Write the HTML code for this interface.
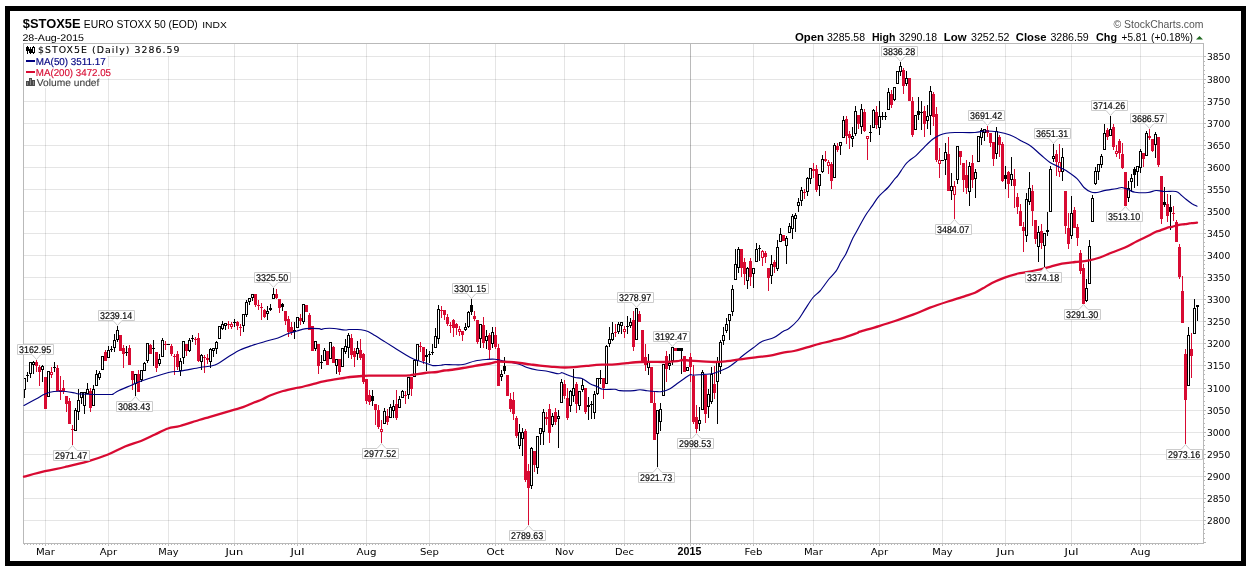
<!DOCTYPE html>
<html lang="en"><head><meta charset="utf-8"><title>$STOX5E EURO STOXX 50 (EOD) INDX - StockCharts.com</title>
<style>html,body{margin:0;padding:0;background:#fff}body{width:1250px;height:569px;overflow:hidden}svg{display:block}text{font-family:"Liberation Sans",sans-serif}.dj{font-family:"DejaVu Sans","Liberation Sans",sans-serif}</style></head><body>
<svg width="1250" height="569" viewBox="0 0 1250 569">
<rect x="0" y="0" width="1250" height="569" fill="#fff"/>
<rect x="7.5" y="8.5" width="1236" height="555" fill="none" stroke="#000" stroke-width="5" shape-rendering="crispEdges"/>
<g shape-rendering="crispEdges">
<rect x="23" y="520" width="1180" height="1" fill="#000" fill-opacity="0.1"/>
<rect x="23" y="498" width="1180" height="1" fill="#000" fill-opacity="0.1"/>
<rect x="23" y="476" width="1180" height="1" fill="#000" fill-opacity="0.1"/>
<rect x="23" y="454" width="1180" height="1" fill="#000" fill-opacity="0.1"/>
<rect x="23" y="432" width="1180" height="1" fill="#000" fill-opacity="0.1"/>
<rect x="23" y="410" width="1180" height="1" fill="#000" fill-opacity="0.1"/>
<rect x="23" y="388" width="1180" height="1" fill="#000" fill-opacity="0.1"/>
<rect x="23" y="365" width="1180" height="1" fill="#000" fill-opacity="0.1"/>
<rect x="23" y="343" width="1180" height="1" fill="#000" fill-opacity="0.1"/>
<rect x="23" y="321" width="1180" height="1" fill="#000" fill-opacity="0.1"/>
<rect x="23" y="299" width="1180" height="1" fill="#000" fill-opacity="0.1"/>
<rect x="23" y="277" width="1180" height="1" fill="#000" fill-opacity="0.1"/>
<rect x="23" y="255" width="1180" height="1" fill="#000" fill-opacity="0.1"/>
<rect x="23" y="233" width="1180" height="1" fill="#000" fill-opacity="0.1"/>
<rect x="23" y="211" width="1180" height="1" fill="#000" fill-opacity="0.1"/>
<rect x="23" y="189" width="1180" height="1" fill="#000" fill-opacity="0.1"/>
<rect x="23" y="167" width="1180" height="1" fill="#000" fill-opacity="0.1"/>
<rect x="23" y="145" width="1180" height="1" fill="#000" fill-opacity="0.1"/>
<rect x="23" y="123" width="1180" height="1" fill="#000" fill-opacity="0.1"/>
<rect x="23" y="101" width="1180" height="1" fill="#000" fill-opacity="0.1"/>
<rect x="23" y="79" width="1180" height="1" fill="#000" fill-opacity="0.1"/>
<rect x="23" y="56" width="1180" height="1" fill="#000" fill-opacity="0.1"/>
<rect x="45" y="43" width="1" height="500" fill="#000" fill-opacity="0.1"/>
<rect x="108" y="43" width="1" height="500" fill="#000" fill-opacity="0.1"/>
<rect x="168" y="43" width="1" height="500" fill="#000" fill-opacity="0.1"/>
<rect x="234" y="43" width="1" height="500" fill="#000" fill-opacity="0.1"/>
<rect x="297" y="43" width="1" height="500" fill="#000" fill-opacity="0.1"/>
<rect x="366" y="43" width="1" height="500" fill="#000" fill-opacity="0.1"/>
<rect x="429" y="43" width="1" height="500" fill="#000" fill-opacity="0.1"/>
<rect x="495" y="43" width="1" height="500" fill="#000" fill-opacity="0.1"/>
<rect x="564" y="43" width="1" height="500" fill="#000" fill-opacity="0.1"/>
<rect x="624" y="43" width="1" height="500" fill="#000" fill-opacity="0.1"/>
<rect x="690" y="43" width="1" height="500" fill="#000" fill-opacity="0.27"/>
<rect x="753" y="43" width="1" height="500" fill="#000" fill-opacity="0.1"/>
<rect x="813" y="43" width="1" height="500" fill="#000" fill-opacity="0.1"/>
<rect x="879" y="43" width="1" height="500" fill="#000" fill-opacity="0.1"/>
<rect x="942" y="43" width="1" height="500" fill="#000" fill-opacity="0.1"/>
<rect x="1005" y="43" width="1" height="500" fill="#000" fill-opacity="0.1"/>
<rect x="1071" y="43" width="1" height="500" fill="#000" fill-opacity="0.1"/>
<rect x="1140" y="43" width="1" height="500" fill="#000" fill-opacity="0.1"/>
<rect x="23" y="43" width="1181" height="1" fill="#b9b9b9"/>
<rect x="23" y="543" width="1181" height="1" fill="#b9b9b9"/>
<rect x="23" y="43" width="1" height="501" fill="#b9b9b9"/>
<rect x="1203" y="43" width="1" height="501" fill="#b9b9b9"/>
<rect x="1204" y="542" width="2" height="1" fill="#b9b9b9"/>
<rect x="1204" y="538" width="1" height="1" fill="#b9b9b9"/>
<rect x="1204" y="533" width="1" height="1" fill="#b9b9b9"/>
<rect x="1204" y="529" width="1" height="1" fill="#b9b9b9"/>
<rect x="1204" y="524" width="1" height="1" fill="#b9b9b9"/>
<rect x="1204" y="520" width="2" height="1" fill="#b9b9b9"/>
<rect x="1204" y="516" width="1" height="1" fill="#b9b9b9"/>
<rect x="1204" y="511" width="1" height="1" fill="#b9b9b9"/>
<rect x="1204" y="507" width="1" height="1" fill="#b9b9b9"/>
<rect x="1204" y="502" width="1" height="1" fill="#b9b9b9"/>
<rect x="1204" y="498" width="2" height="1" fill="#b9b9b9"/>
<rect x="1204" y="493" width="1" height="1" fill="#b9b9b9"/>
<rect x="1204" y="489" width="1" height="1" fill="#b9b9b9"/>
<rect x="1204" y="485" width="1" height="1" fill="#b9b9b9"/>
<rect x="1204" y="480" width="1" height="1" fill="#b9b9b9"/>
<rect x="1204" y="476" width="2" height="1" fill="#b9b9b9"/>
<rect x="1204" y="471" width="1" height="1" fill="#b9b9b9"/>
<rect x="1204" y="467" width="1" height="1" fill="#b9b9b9"/>
<rect x="1204" y="463" width="1" height="1" fill="#b9b9b9"/>
<rect x="1204" y="458" width="1" height="1" fill="#b9b9b9"/>
<rect x="1204" y="454" width="2" height="1" fill="#b9b9b9"/>
<rect x="1204" y="449" width="1" height="1" fill="#b9b9b9"/>
<rect x="1204" y="445" width="1" height="1" fill="#b9b9b9"/>
<rect x="1204" y="440" width="1" height="1" fill="#b9b9b9"/>
<rect x="1204" y="436" width="1" height="1" fill="#b9b9b9"/>
<rect x="1204" y="432" width="2" height="1" fill="#b9b9b9"/>
<rect x="1204" y="427" width="1" height="1" fill="#b9b9b9"/>
<rect x="1204" y="423" width="1" height="1" fill="#b9b9b9"/>
<rect x="1204" y="418" width="1" height="1" fill="#b9b9b9"/>
<rect x="1204" y="414" width="1" height="1" fill="#b9b9b9"/>
<rect x="1204" y="410" width="2" height="1" fill="#b9b9b9"/>
<rect x="1204" y="405" width="1" height="1" fill="#b9b9b9"/>
<rect x="1204" y="401" width="1" height="1" fill="#b9b9b9"/>
<rect x="1204" y="396" width="1" height="1" fill="#b9b9b9"/>
<rect x="1204" y="392" width="1" height="1" fill="#b9b9b9"/>
<rect x="1204" y="388" width="2" height="1" fill="#b9b9b9"/>
<rect x="1204" y="383" width="1" height="1" fill="#b9b9b9"/>
<rect x="1204" y="379" width="1" height="1" fill="#b9b9b9"/>
<rect x="1204" y="374" width="1" height="1" fill="#b9b9b9"/>
<rect x="1204" y="370" width="1" height="1" fill="#b9b9b9"/>
<rect x="1204" y="365" width="2" height="1" fill="#b9b9b9"/>
<rect x="1204" y="361" width="1" height="1" fill="#b9b9b9"/>
<rect x="1204" y="357" width="1" height="1" fill="#b9b9b9"/>
<rect x="1204" y="352" width="1" height="1" fill="#b9b9b9"/>
<rect x="1204" y="348" width="1" height="1" fill="#b9b9b9"/>
<rect x="1204" y="343" width="2" height="1" fill="#b9b9b9"/>
<rect x="1204" y="339" width="1" height="1" fill="#b9b9b9"/>
<rect x="1204" y="335" width="1" height="1" fill="#b9b9b9"/>
<rect x="1204" y="330" width="1" height="1" fill="#b9b9b9"/>
<rect x="1204" y="326" width="1" height="1" fill="#b9b9b9"/>
<rect x="1204" y="321" width="2" height="1" fill="#b9b9b9"/>
<rect x="1204" y="317" width="1" height="1" fill="#b9b9b9"/>
<rect x="1204" y="312" width="1" height="1" fill="#b9b9b9"/>
<rect x="1204" y="308" width="1" height="1" fill="#b9b9b9"/>
<rect x="1204" y="304" width="1" height="1" fill="#b9b9b9"/>
<rect x="1204" y="299" width="2" height="1" fill="#b9b9b9"/>
<rect x="1204" y="295" width="1" height="1" fill="#b9b9b9"/>
<rect x="1204" y="290" width="1" height="1" fill="#b9b9b9"/>
<rect x="1204" y="286" width="1" height="1" fill="#b9b9b9"/>
<rect x="1204" y="282" width="1" height="1" fill="#b9b9b9"/>
<rect x="1204" y="277" width="2" height="1" fill="#b9b9b9"/>
<rect x="1204" y="273" width="1" height="1" fill="#b9b9b9"/>
<rect x="1204" y="268" width="1" height="1" fill="#b9b9b9"/>
<rect x="1204" y="264" width="1" height="1" fill="#b9b9b9"/>
<rect x="1204" y="260" width="1" height="1" fill="#b9b9b9"/>
<rect x="1204" y="255" width="2" height="1" fill="#b9b9b9"/>
<rect x="1204" y="251" width="1" height="1" fill="#b9b9b9"/>
<rect x="1204" y="246" width="1" height="1" fill="#b9b9b9"/>
<rect x="1204" y="242" width="1" height="1" fill="#b9b9b9"/>
<rect x="1204" y="237" width="1" height="1" fill="#b9b9b9"/>
<rect x="1204" y="233" width="2" height="1" fill="#b9b9b9"/>
<rect x="1204" y="229" width="1" height="1" fill="#b9b9b9"/>
<rect x="1204" y="224" width="1" height="1" fill="#b9b9b9"/>
<rect x="1204" y="220" width="1" height="1" fill="#b9b9b9"/>
<rect x="1204" y="215" width="1" height="1" fill="#b9b9b9"/>
<rect x="1204" y="211" width="2" height="1" fill="#b9b9b9"/>
<rect x="1204" y="207" width="1" height="1" fill="#b9b9b9"/>
<rect x="1204" y="202" width="1" height="1" fill="#b9b9b9"/>
<rect x="1204" y="198" width="1" height="1" fill="#b9b9b9"/>
<rect x="1204" y="193" width="1" height="1" fill="#b9b9b9"/>
<rect x="1204" y="189" width="2" height="1" fill="#b9b9b9"/>
<rect x="1204" y="184" width="1" height="1" fill="#b9b9b9"/>
<rect x="1204" y="180" width="1" height="1" fill="#b9b9b9"/>
<rect x="1204" y="176" width="1" height="1" fill="#b9b9b9"/>
<rect x="1204" y="171" width="1" height="1" fill="#b9b9b9"/>
<rect x="1204" y="167" width="2" height="1" fill="#b9b9b9"/>
<rect x="1204" y="162" width="1" height="1" fill="#b9b9b9"/>
<rect x="1204" y="158" width="1" height="1" fill="#b9b9b9"/>
<rect x="1204" y="154" width="1" height="1" fill="#b9b9b9"/>
<rect x="1204" y="149" width="1" height="1" fill="#b9b9b9"/>
<rect x="1204" y="145" width="2" height="1" fill="#b9b9b9"/>
<rect x="1204" y="140" width="1" height="1" fill="#b9b9b9"/>
<rect x="1204" y="136" width="1" height="1" fill="#b9b9b9"/>
<rect x="1204" y="132" width="1" height="1" fill="#b9b9b9"/>
<rect x="1204" y="127" width="1" height="1" fill="#b9b9b9"/>
<rect x="1204" y="123" width="2" height="1" fill="#b9b9b9"/>
<rect x="1204" y="118" width="1" height="1" fill="#b9b9b9"/>
<rect x="1204" y="114" width="1" height="1" fill="#b9b9b9"/>
<rect x="1204" y="109" width="1" height="1" fill="#b9b9b9"/>
<rect x="1204" y="105" width="1" height="1" fill="#b9b9b9"/>
<rect x="1204" y="101" width="2" height="1" fill="#b9b9b9"/>
<rect x="1204" y="96" width="1" height="1" fill="#b9b9b9"/>
<rect x="1204" y="92" width="1" height="1" fill="#b9b9b9"/>
<rect x="1204" y="87" width="1" height="1" fill="#b9b9b9"/>
<rect x="1204" y="83" width="1" height="1" fill="#b9b9b9"/>
<rect x="1204" y="79" width="2" height="1" fill="#b9b9b9"/>
<rect x="1204" y="74" width="1" height="1" fill="#b9b9b9"/>
<rect x="1204" y="70" width="1" height="1" fill="#b9b9b9"/>
<rect x="1204" y="65" width="1" height="1" fill="#b9b9b9"/>
<rect x="1204" y="61" width="1" height="1" fill="#b9b9b9"/>
<rect x="1204" y="56" width="2" height="1" fill="#b9b9b9"/>
<rect x="24" y="544" width="1" height="1" fill="#b9b9b9"/>
<rect x="27" y="544" width="1" height="1" fill="#b9b9b9"/>
<rect x="30" y="544" width="1" height="1" fill="#b9b9b9"/>
<rect x="33" y="544" width="1" height="1" fill="#b9b9b9"/>
<rect x="36" y="544" width="1" height="1" fill="#b9b9b9"/>
<rect x="39" y="544" width="1" height="1" fill="#b9b9b9"/>
<rect x="42" y="544" width="1" height="1" fill="#b9b9b9"/>
<rect x="45" y="544" width="1" height="1" fill="#b9b9b9"/>
<rect x="48" y="544" width="1" height="1" fill="#b9b9b9"/>
<rect x="51" y="544" width="1" height="1" fill="#b9b9b9"/>
<rect x="54" y="544" width="1" height="1" fill="#b9b9b9"/>
<rect x="57" y="544" width="1" height="1" fill="#b9b9b9"/>
<rect x="60" y="544" width="1" height="1" fill="#b9b9b9"/>
<rect x="63" y="544" width="1" height="1" fill="#b9b9b9"/>
<rect x="66" y="544" width="1" height="1" fill="#b9b9b9"/>
<rect x="69" y="544" width="1" height="1" fill="#b9b9b9"/>
<rect x="72" y="544" width="1" height="1" fill="#b9b9b9"/>
<rect x="75" y="544" width="1" height="1" fill="#b9b9b9"/>
<rect x="78" y="544" width="1" height="1" fill="#b9b9b9"/>
<rect x="81" y="544" width="1" height="1" fill="#b9b9b9"/>
<rect x="84" y="544" width="1" height="1" fill="#b9b9b9"/>
<rect x="87" y="544" width="1" height="1" fill="#b9b9b9"/>
<rect x="90" y="544" width="1" height="1" fill="#b9b9b9"/>
<rect x="93" y="544" width="1" height="1" fill="#b9b9b9"/>
<rect x="96" y="544" width="1" height="1" fill="#b9b9b9"/>
<rect x="99" y="544" width="1" height="1" fill="#b9b9b9"/>
<rect x="102" y="544" width="1" height="1" fill="#b9b9b9"/>
<rect x="105" y="544" width="1" height="1" fill="#b9b9b9"/>
<rect x="108" y="544" width="1" height="1" fill="#b9b9b9"/>
<rect x="111" y="544" width="1" height="1" fill="#b9b9b9"/>
<rect x="114" y="544" width="1" height="1" fill="#b9b9b9"/>
<rect x="117" y="544" width="1" height="1" fill="#b9b9b9"/>
<rect x="120" y="544" width="1" height="1" fill="#b9b9b9"/>
<rect x="123" y="544" width="1" height="1" fill="#b9b9b9"/>
<rect x="126" y="544" width="1" height="1" fill="#b9b9b9"/>
<rect x="129" y="544" width="1" height="1" fill="#b9b9b9"/>
<rect x="132" y="544" width="1" height="1" fill="#b9b9b9"/>
<rect x="135" y="544" width="1" height="1" fill="#b9b9b9"/>
<rect x="138" y="544" width="1" height="1" fill="#b9b9b9"/>
<rect x="141" y="544" width="1" height="1" fill="#b9b9b9"/>
<rect x="144" y="544" width="1" height="1" fill="#b9b9b9"/>
<rect x="147" y="544" width="1" height="1" fill="#b9b9b9"/>
<rect x="150" y="544" width="1" height="1" fill="#b9b9b9"/>
<rect x="153" y="544" width="1" height="1" fill="#b9b9b9"/>
<rect x="156" y="544" width="1" height="1" fill="#b9b9b9"/>
<rect x="159" y="544" width="1" height="1" fill="#b9b9b9"/>
<rect x="162" y="544" width="1" height="1" fill="#b9b9b9"/>
<rect x="165" y="544" width="1" height="1" fill="#b9b9b9"/>
<rect x="168" y="544" width="1" height="1" fill="#b9b9b9"/>
<rect x="171" y="544" width="1" height="1" fill="#b9b9b9"/>
<rect x="174" y="544" width="1" height="1" fill="#b9b9b9"/>
<rect x="177" y="544" width="1" height="1" fill="#b9b9b9"/>
<rect x="180" y="544" width="1" height="1" fill="#b9b9b9"/>
<rect x="183" y="544" width="1" height="1" fill="#b9b9b9"/>
<rect x="186" y="544" width="1" height="1" fill="#b9b9b9"/>
<rect x="189" y="544" width="1" height="1" fill="#b9b9b9"/>
<rect x="192" y="544" width="1" height="1" fill="#b9b9b9"/>
<rect x="195" y="544" width="1" height="1" fill="#b9b9b9"/>
<rect x="198" y="544" width="1" height="1" fill="#b9b9b9"/>
<rect x="201" y="544" width="1" height="1" fill="#b9b9b9"/>
<rect x="204" y="544" width="1" height="1" fill="#b9b9b9"/>
<rect x="207" y="544" width="1" height="1" fill="#b9b9b9"/>
<rect x="210" y="544" width="1" height="1" fill="#b9b9b9"/>
<rect x="213" y="544" width="1" height="1" fill="#b9b9b9"/>
<rect x="216" y="544" width="1" height="1" fill="#b9b9b9"/>
<rect x="219" y="544" width="1" height="1" fill="#b9b9b9"/>
<rect x="222" y="544" width="1" height="1" fill="#b9b9b9"/>
<rect x="225" y="544" width="1" height="1" fill="#b9b9b9"/>
<rect x="228" y="544" width="1" height="1" fill="#b9b9b9"/>
<rect x="231" y="544" width="1" height="1" fill="#b9b9b9"/>
<rect x="234" y="544" width="1" height="1" fill="#b9b9b9"/>
<rect x="237" y="544" width="1" height="1" fill="#b9b9b9"/>
<rect x="240" y="544" width="1" height="1" fill="#b9b9b9"/>
<rect x="243" y="544" width="1" height="1" fill="#b9b9b9"/>
<rect x="246" y="544" width="1" height="1" fill="#b9b9b9"/>
<rect x="249" y="544" width="1" height="1" fill="#b9b9b9"/>
<rect x="252" y="544" width="1" height="1" fill="#b9b9b9"/>
<rect x="255" y="544" width="1" height="1" fill="#b9b9b9"/>
<rect x="258" y="544" width="1" height="1" fill="#b9b9b9"/>
<rect x="261" y="544" width="1" height="1" fill="#b9b9b9"/>
<rect x="264" y="544" width="1" height="1" fill="#b9b9b9"/>
<rect x="267" y="544" width="1" height="1" fill="#b9b9b9"/>
<rect x="270" y="544" width="1" height="1" fill="#b9b9b9"/>
<rect x="273" y="544" width="1" height="1" fill="#b9b9b9"/>
<rect x="276" y="544" width="1" height="1" fill="#b9b9b9"/>
<rect x="279" y="544" width="1" height="1" fill="#b9b9b9"/>
<rect x="282" y="544" width="1" height="1" fill="#b9b9b9"/>
<rect x="285" y="544" width="1" height="1" fill="#b9b9b9"/>
<rect x="288" y="544" width="1" height="1" fill="#b9b9b9"/>
<rect x="291" y="544" width="1" height="1" fill="#b9b9b9"/>
<rect x="294" y="544" width="1" height="1" fill="#b9b9b9"/>
<rect x="297" y="544" width="1" height="1" fill="#b9b9b9"/>
<rect x="300" y="544" width="1" height="1" fill="#b9b9b9"/>
<rect x="303" y="544" width="1" height="1" fill="#b9b9b9"/>
<rect x="306" y="544" width="1" height="1" fill="#b9b9b9"/>
<rect x="309" y="544" width="1" height="1" fill="#b9b9b9"/>
<rect x="312" y="544" width="1" height="1" fill="#b9b9b9"/>
<rect x="315" y="544" width="1" height="1" fill="#b9b9b9"/>
<rect x="318" y="544" width="1" height="1" fill="#b9b9b9"/>
<rect x="321" y="544" width="1" height="1" fill="#b9b9b9"/>
<rect x="324" y="544" width="1" height="1" fill="#b9b9b9"/>
<rect x="327" y="544" width="1" height="1" fill="#b9b9b9"/>
<rect x="330" y="544" width="1" height="1" fill="#b9b9b9"/>
<rect x="333" y="544" width="1" height="1" fill="#b9b9b9"/>
<rect x="336" y="544" width="1" height="1" fill="#b9b9b9"/>
<rect x="339" y="544" width="1" height="1" fill="#b9b9b9"/>
<rect x="342" y="544" width="1" height="1" fill="#b9b9b9"/>
<rect x="345" y="544" width="1" height="1" fill="#b9b9b9"/>
<rect x="348" y="544" width="1" height="1" fill="#b9b9b9"/>
<rect x="351" y="544" width="1" height="1" fill="#b9b9b9"/>
<rect x="354" y="544" width="1" height="1" fill="#b9b9b9"/>
<rect x="357" y="544" width="1" height="1" fill="#b9b9b9"/>
<rect x="360" y="544" width="1" height="1" fill="#b9b9b9"/>
<rect x="363" y="544" width="1" height="1" fill="#b9b9b9"/>
<rect x="366" y="544" width="1" height="1" fill="#b9b9b9"/>
<rect x="369" y="544" width="1" height="1" fill="#b9b9b9"/>
<rect x="372" y="544" width="1" height="1" fill="#b9b9b9"/>
<rect x="375" y="544" width="1" height="1" fill="#b9b9b9"/>
<rect x="378" y="544" width="1" height="1" fill="#b9b9b9"/>
<rect x="381" y="544" width="1" height="1" fill="#b9b9b9"/>
<rect x="384" y="544" width="1" height="1" fill="#b9b9b9"/>
<rect x="387" y="544" width="1" height="1" fill="#b9b9b9"/>
<rect x="390" y="544" width="1" height="1" fill="#b9b9b9"/>
<rect x="393" y="544" width="1" height="1" fill="#b9b9b9"/>
<rect x="396" y="544" width="1" height="1" fill="#b9b9b9"/>
<rect x="399" y="544" width="1" height="1" fill="#b9b9b9"/>
<rect x="402" y="544" width="1" height="1" fill="#b9b9b9"/>
<rect x="405" y="544" width="1" height="1" fill="#b9b9b9"/>
<rect x="408" y="544" width="1" height="1" fill="#b9b9b9"/>
<rect x="411" y="544" width="1" height="1" fill="#b9b9b9"/>
<rect x="414" y="544" width="1" height="1" fill="#b9b9b9"/>
<rect x="417" y="544" width="1" height="1" fill="#b9b9b9"/>
<rect x="420" y="544" width="1" height="1" fill="#b9b9b9"/>
<rect x="423" y="544" width="1" height="1" fill="#b9b9b9"/>
<rect x="426" y="544" width="1" height="1" fill="#b9b9b9"/>
<rect x="429" y="544" width="1" height="1" fill="#b9b9b9"/>
<rect x="432" y="544" width="1" height="1" fill="#b9b9b9"/>
<rect x="435" y="544" width="1" height="1" fill="#b9b9b9"/>
<rect x="438" y="544" width="1" height="1" fill="#b9b9b9"/>
<rect x="441" y="544" width="1" height="1" fill="#b9b9b9"/>
<rect x="444" y="544" width="1" height="1" fill="#b9b9b9"/>
<rect x="447" y="544" width="1" height="1" fill="#b9b9b9"/>
<rect x="450" y="544" width="1" height="1" fill="#b9b9b9"/>
<rect x="453" y="544" width="1" height="1" fill="#b9b9b9"/>
<rect x="456" y="544" width="1" height="1" fill="#b9b9b9"/>
<rect x="459" y="544" width="1" height="1" fill="#b9b9b9"/>
<rect x="462" y="544" width="1" height="1" fill="#b9b9b9"/>
<rect x="465" y="544" width="1" height="1" fill="#b9b9b9"/>
<rect x="468" y="544" width="1" height="1" fill="#b9b9b9"/>
<rect x="471" y="544" width="1" height="1" fill="#b9b9b9"/>
<rect x="474" y="544" width="1" height="1" fill="#b9b9b9"/>
<rect x="477" y="544" width="1" height="1" fill="#b9b9b9"/>
<rect x="480" y="544" width="1" height="1" fill="#b9b9b9"/>
<rect x="483" y="544" width="1" height="1" fill="#b9b9b9"/>
<rect x="486" y="544" width="1" height="1" fill="#b9b9b9"/>
<rect x="489" y="544" width="1" height="1" fill="#b9b9b9"/>
<rect x="492" y="544" width="1" height="1" fill="#b9b9b9"/>
<rect x="495" y="544" width="1" height="1" fill="#b9b9b9"/>
<rect x="498" y="544" width="1" height="1" fill="#b9b9b9"/>
<rect x="501" y="544" width="1" height="1" fill="#b9b9b9"/>
<rect x="504" y="544" width="1" height="1" fill="#b9b9b9"/>
<rect x="507" y="544" width="1" height="1" fill="#b9b9b9"/>
<rect x="510" y="544" width="1" height="1" fill="#b9b9b9"/>
<rect x="513" y="544" width="1" height="1" fill="#b9b9b9"/>
<rect x="516" y="544" width="1" height="1" fill="#b9b9b9"/>
<rect x="519" y="544" width="1" height="1" fill="#b9b9b9"/>
<rect x="522" y="544" width="1" height="1" fill="#b9b9b9"/>
<rect x="525" y="544" width="1" height="1" fill="#b9b9b9"/>
<rect x="528" y="544" width="1" height="1" fill="#b9b9b9"/>
<rect x="531" y="544" width="1" height="1" fill="#b9b9b9"/>
<rect x="534" y="544" width="1" height="1" fill="#b9b9b9"/>
<rect x="537" y="544" width="1" height="1" fill="#b9b9b9"/>
<rect x="540" y="544" width="1" height="1" fill="#b9b9b9"/>
<rect x="543" y="544" width="1" height="1" fill="#b9b9b9"/>
<rect x="546" y="544" width="1" height="1" fill="#b9b9b9"/>
<rect x="549" y="544" width="1" height="1" fill="#b9b9b9"/>
<rect x="552" y="544" width="1" height="1" fill="#b9b9b9"/>
<rect x="555" y="544" width="1" height="1" fill="#b9b9b9"/>
<rect x="558" y="544" width="1" height="1" fill="#b9b9b9"/>
<rect x="561" y="544" width="1" height="1" fill="#b9b9b9"/>
<rect x="564" y="544" width="1" height="1" fill="#b9b9b9"/>
<rect x="567" y="544" width="1" height="1" fill="#b9b9b9"/>
<rect x="570" y="544" width="1" height="1" fill="#b9b9b9"/>
<rect x="573" y="544" width="1" height="1" fill="#b9b9b9"/>
<rect x="576" y="544" width="1" height="1" fill="#b9b9b9"/>
<rect x="579" y="544" width="1" height="1" fill="#b9b9b9"/>
<rect x="582" y="544" width="1" height="1" fill="#b9b9b9"/>
<rect x="585" y="544" width="1" height="1" fill="#b9b9b9"/>
<rect x="588" y="544" width="1" height="1" fill="#b9b9b9"/>
<rect x="591" y="544" width="1" height="1" fill="#b9b9b9"/>
<rect x="594" y="544" width="1" height="1" fill="#b9b9b9"/>
<rect x="597" y="544" width="1" height="1" fill="#b9b9b9"/>
<rect x="600" y="544" width="1" height="1" fill="#b9b9b9"/>
<rect x="603" y="544" width="1" height="1" fill="#b9b9b9"/>
<rect x="606" y="544" width="1" height="1" fill="#b9b9b9"/>
<rect x="609" y="544" width="1" height="1" fill="#b9b9b9"/>
<rect x="612" y="544" width="1" height="1" fill="#b9b9b9"/>
<rect x="615" y="544" width="1" height="1" fill="#b9b9b9"/>
<rect x="618" y="544" width="1" height="1" fill="#b9b9b9"/>
<rect x="621" y="544" width="1" height="1" fill="#b9b9b9"/>
<rect x="624" y="544" width="1" height="1" fill="#b9b9b9"/>
<rect x="627" y="544" width="1" height="1" fill="#b9b9b9"/>
<rect x="630" y="544" width="1" height="1" fill="#b9b9b9"/>
<rect x="633" y="544" width="1" height="1" fill="#b9b9b9"/>
<rect x="636" y="544" width="1" height="1" fill="#b9b9b9"/>
<rect x="639" y="544" width="1" height="1" fill="#b9b9b9"/>
<rect x="642" y="544" width="1" height="1" fill="#b9b9b9"/>
<rect x="645" y="544" width="1" height="1" fill="#b9b9b9"/>
<rect x="648" y="544" width="1" height="1" fill="#b9b9b9"/>
<rect x="651" y="544" width="1" height="1" fill="#b9b9b9"/>
<rect x="654" y="544" width="1" height="1" fill="#b9b9b9"/>
<rect x="657" y="544" width="1" height="1" fill="#b9b9b9"/>
<rect x="660" y="544" width="1" height="1" fill="#b9b9b9"/>
<rect x="663" y="544" width="1" height="1" fill="#b9b9b9"/>
<rect x="666" y="544" width="1" height="1" fill="#b9b9b9"/>
<rect x="669" y="544" width="1" height="1" fill="#b9b9b9"/>
<rect x="672" y="544" width="1" height="1" fill="#b9b9b9"/>
<rect x="675" y="544" width="1" height="1" fill="#b9b9b9"/>
<rect x="678" y="544" width="1" height="1" fill="#b9b9b9"/>
<rect x="681" y="544" width="1" height="1" fill="#b9b9b9"/>
<rect x="684" y="544" width="1" height="1" fill="#b9b9b9"/>
<rect x="687" y="544" width="1" height="1" fill="#b9b9b9"/>
<rect x="690" y="544" width="1" height="1" fill="#b9b9b9"/>
<rect x="693" y="544" width="1" height="1" fill="#b9b9b9"/>
<rect x="696" y="544" width="1" height="1" fill="#b9b9b9"/>
<rect x="699" y="544" width="1" height="1" fill="#b9b9b9"/>
<rect x="702" y="544" width="1" height="1" fill="#b9b9b9"/>
<rect x="705" y="544" width="1" height="1" fill="#b9b9b9"/>
<rect x="708" y="544" width="1" height="1" fill="#b9b9b9"/>
<rect x="711" y="544" width="1" height="1" fill="#b9b9b9"/>
<rect x="714" y="544" width="1" height="1" fill="#b9b9b9"/>
<rect x="717" y="544" width="1" height="1" fill="#b9b9b9"/>
<rect x="720" y="544" width="1" height="1" fill="#b9b9b9"/>
<rect x="723" y="544" width="1" height="1" fill="#b9b9b9"/>
<rect x="726" y="544" width="1" height="1" fill="#b9b9b9"/>
<rect x="729" y="544" width="1" height="1" fill="#b9b9b9"/>
<rect x="732" y="544" width="1" height="1" fill="#b9b9b9"/>
<rect x="735" y="544" width="1" height="1" fill="#b9b9b9"/>
<rect x="738" y="544" width="1" height="1" fill="#b9b9b9"/>
<rect x="741" y="544" width="1" height="1" fill="#b9b9b9"/>
<rect x="744" y="544" width="1" height="1" fill="#b9b9b9"/>
<rect x="747" y="544" width="1" height="1" fill="#b9b9b9"/>
<rect x="750" y="544" width="1" height="1" fill="#b9b9b9"/>
<rect x="753" y="544" width="1" height="1" fill="#b9b9b9"/>
<rect x="756" y="544" width="1" height="1" fill="#b9b9b9"/>
<rect x="759" y="544" width="1" height="1" fill="#b9b9b9"/>
<rect x="762" y="544" width="1" height="1" fill="#b9b9b9"/>
<rect x="765" y="544" width="1" height="1" fill="#b9b9b9"/>
<rect x="768" y="544" width="1" height="1" fill="#b9b9b9"/>
<rect x="771" y="544" width="1" height="1" fill="#b9b9b9"/>
<rect x="774" y="544" width="1" height="1" fill="#b9b9b9"/>
<rect x="777" y="544" width="1" height="1" fill="#b9b9b9"/>
<rect x="780" y="544" width="1" height="1" fill="#b9b9b9"/>
<rect x="783" y="544" width="1" height="1" fill="#b9b9b9"/>
<rect x="786" y="544" width="1" height="1" fill="#b9b9b9"/>
<rect x="789" y="544" width="1" height="1" fill="#b9b9b9"/>
<rect x="792" y="544" width="1" height="1" fill="#b9b9b9"/>
<rect x="795" y="544" width="1" height="1" fill="#b9b9b9"/>
<rect x="798" y="544" width="1" height="1" fill="#b9b9b9"/>
<rect x="801" y="544" width="1" height="1" fill="#b9b9b9"/>
<rect x="804" y="544" width="1" height="1" fill="#b9b9b9"/>
<rect x="807" y="544" width="1" height="1" fill="#b9b9b9"/>
<rect x="810" y="544" width="1" height="1" fill="#b9b9b9"/>
<rect x="813" y="544" width="1" height="1" fill="#b9b9b9"/>
<rect x="816" y="544" width="1" height="1" fill="#b9b9b9"/>
<rect x="819" y="544" width="1" height="1" fill="#b9b9b9"/>
<rect x="822" y="544" width="1" height="1" fill="#b9b9b9"/>
<rect x="825" y="544" width="1" height="1" fill="#b9b9b9"/>
<rect x="828" y="544" width="1" height="1" fill="#b9b9b9"/>
<rect x="831" y="544" width="1" height="1" fill="#b9b9b9"/>
<rect x="834" y="544" width="1" height="1" fill="#b9b9b9"/>
<rect x="837" y="544" width="1" height="1" fill="#b9b9b9"/>
<rect x="840" y="544" width="1" height="1" fill="#b9b9b9"/>
<rect x="843" y="544" width="1" height="1" fill="#b9b9b9"/>
<rect x="846" y="544" width="1" height="1" fill="#b9b9b9"/>
<rect x="849" y="544" width="1" height="1" fill="#b9b9b9"/>
<rect x="852" y="544" width="1" height="1" fill="#b9b9b9"/>
<rect x="855" y="544" width="1" height="1" fill="#b9b9b9"/>
<rect x="858" y="544" width="1" height="1" fill="#b9b9b9"/>
<rect x="861" y="544" width="1" height="1" fill="#b9b9b9"/>
<rect x="864" y="544" width="1" height="1" fill="#b9b9b9"/>
<rect x="867" y="544" width="1" height="1" fill="#b9b9b9"/>
<rect x="870" y="544" width="1" height="1" fill="#b9b9b9"/>
<rect x="873" y="544" width="1" height="1" fill="#b9b9b9"/>
<rect x="876" y="544" width="1" height="1" fill="#b9b9b9"/>
<rect x="879" y="544" width="1" height="1" fill="#b9b9b9"/>
<rect x="882" y="544" width="1" height="1" fill="#b9b9b9"/>
<rect x="885" y="544" width="1" height="1" fill="#b9b9b9"/>
<rect x="888" y="544" width="1" height="1" fill="#b9b9b9"/>
<rect x="891" y="544" width="1" height="1" fill="#b9b9b9"/>
<rect x="894" y="544" width="1" height="1" fill="#b9b9b9"/>
<rect x="897" y="544" width="1" height="1" fill="#b9b9b9"/>
<rect x="900" y="544" width="1" height="1" fill="#b9b9b9"/>
<rect x="903" y="544" width="1" height="1" fill="#b9b9b9"/>
<rect x="906" y="544" width="1" height="1" fill="#b9b9b9"/>
<rect x="909" y="544" width="1" height="1" fill="#b9b9b9"/>
<rect x="912" y="544" width="1" height="1" fill="#b9b9b9"/>
<rect x="915" y="544" width="1" height="1" fill="#b9b9b9"/>
<rect x="918" y="544" width="1" height="1" fill="#b9b9b9"/>
<rect x="921" y="544" width="1" height="1" fill="#b9b9b9"/>
<rect x="924" y="544" width="1" height="1" fill="#b9b9b9"/>
<rect x="927" y="544" width="1" height="1" fill="#b9b9b9"/>
<rect x="930" y="544" width="1" height="1" fill="#b9b9b9"/>
<rect x="933" y="544" width="1" height="1" fill="#b9b9b9"/>
<rect x="936" y="544" width="1" height="1" fill="#b9b9b9"/>
<rect x="939" y="544" width="1" height="1" fill="#b9b9b9"/>
<rect x="942" y="544" width="1" height="1" fill="#b9b9b9"/>
<rect x="945" y="544" width="1" height="1" fill="#b9b9b9"/>
<rect x="948" y="544" width="1" height="1" fill="#b9b9b9"/>
<rect x="951" y="544" width="1" height="1" fill="#b9b9b9"/>
<rect x="954" y="544" width="1" height="1" fill="#b9b9b9"/>
<rect x="957" y="544" width="1" height="1" fill="#b9b9b9"/>
<rect x="960" y="544" width="1" height="1" fill="#b9b9b9"/>
<rect x="963" y="544" width="1" height="1" fill="#b9b9b9"/>
<rect x="966" y="544" width="1" height="1" fill="#b9b9b9"/>
<rect x="969" y="544" width="1" height="1" fill="#b9b9b9"/>
<rect x="972" y="544" width="1" height="1" fill="#b9b9b9"/>
<rect x="975" y="544" width="1" height="1" fill="#b9b9b9"/>
<rect x="978" y="544" width="1" height="1" fill="#b9b9b9"/>
<rect x="981" y="544" width="1" height="1" fill="#b9b9b9"/>
<rect x="984" y="544" width="1" height="1" fill="#b9b9b9"/>
<rect x="987" y="544" width="1" height="1" fill="#b9b9b9"/>
<rect x="990" y="544" width="1" height="1" fill="#b9b9b9"/>
<rect x="993" y="544" width="1" height="1" fill="#b9b9b9"/>
<rect x="996" y="544" width="1" height="1" fill="#b9b9b9"/>
<rect x="999" y="544" width="1" height="1" fill="#b9b9b9"/>
<rect x="1002" y="544" width="1" height="1" fill="#b9b9b9"/>
<rect x="1005" y="544" width="1" height="1" fill="#b9b9b9"/>
<rect x="1008" y="544" width="1" height="1" fill="#b9b9b9"/>
<rect x="1011" y="544" width="1" height="1" fill="#b9b9b9"/>
<rect x="1014" y="544" width="1" height="1" fill="#b9b9b9"/>
<rect x="1017" y="544" width="1" height="1" fill="#b9b9b9"/>
<rect x="1020" y="544" width="1" height="1" fill="#b9b9b9"/>
<rect x="1023" y="544" width="1" height="1" fill="#b9b9b9"/>
<rect x="1026" y="544" width="1" height="1" fill="#b9b9b9"/>
<rect x="1029" y="544" width="1" height="1" fill="#b9b9b9"/>
<rect x="1032" y="544" width="1" height="1" fill="#b9b9b9"/>
<rect x="1035" y="544" width="1" height="1" fill="#b9b9b9"/>
<rect x="1038" y="544" width="1" height="1" fill="#b9b9b9"/>
<rect x="1041" y="544" width="1" height="1" fill="#b9b9b9"/>
<rect x="1044" y="544" width="1" height="1" fill="#b9b9b9"/>
<rect x="1047" y="544" width="1" height="1" fill="#b9b9b9"/>
<rect x="1050" y="544" width="1" height="1" fill="#b9b9b9"/>
<rect x="1053" y="544" width="1" height="1" fill="#b9b9b9"/>
<rect x="1056" y="544" width="1" height="1" fill="#b9b9b9"/>
<rect x="1059" y="544" width="1" height="1" fill="#b9b9b9"/>
<rect x="1062" y="544" width="1" height="1" fill="#b9b9b9"/>
<rect x="1065" y="544" width="1" height="1" fill="#b9b9b9"/>
<rect x="1068" y="544" width="1" height="1" fill="#b9b9b9"/>
<rect x="1071" y="544" width="1" height="1" fill="#b9b9b9"/>
<rect x="1074" y="544" width="1" height="1" fill="#b9b9b9"/>
<rect x="1077" y="544" width="1" height="1" fill="#b9b9b9"/>
<rect x="1080" y="544" width="1" height="1" fill="#b9b9b9"/>
<rect x="1083" y="544" width="1" height="1" fill="#b9b9b9"/>
<rect x="1086" y="544" width="1" height="1" fill="#b9b9b9"/>
<rect x="1089" y="544" width="1" height="1" fill="#b9b9b9"/>
<rect x="1092" y="544" width="1" height="1" fill="#b9b9b9"/>
<rect x="1095" y="544" width="1" height="1" fill="#b9b9b9"/>
<rect x="1098" y="544" width="1" height="1" fill="#b9b9b9"/>
<rect x="1101" y="544" width="1" height="1" fill="#b9b9b9"/>
<rect x="1104" y="544" width="1" height="1" fill="#b9b9b9"/>
<rect x="1107" y="544" width="1" height="1" fill="#b9b9b9"/>
<rect x="1110" y="544" width="1" height="1" fill="#b9b9b9"/>
<rect x="1113" y="544" width="1" height="1" fill="#b9b9b9"/>
<rect x="1116" y="544" width="1" height="1" fill="#b9b9b9"/>
<rect x="1119" y="544" width="1" height="1" fill="#b9b9b9"/>
<rect x="1122" y="544" width="1" height="1" fill="#b9b9b9"/>
<rect x="1125" y="544" width="1" height="1" fill="#b9b9b9"/>
<rect x="1128" y="544" width="1" height="1" fill="#b9b9b9"/>
<rect x="1131" y="544" width="1" height="1" fill="#b9b9b9"/>
<rect x="1134" y="544" width="1" height="1" fill="#b9b9b9"/>
<rect x="1137" y="544" width="1" height="1" fill="#b9b9b9"/>
<rect x="1140" y="544" width="1" height="1" fill="#b9b9b9"/>
<rect x="1143" y="544" width="1" height="1" fill="#b9b9b9"/>
<rect x="1146" y="544" width="1" height="1" fill="#b9b9b9"/>
<rect x="1149" y="544" width="1" height="1" fill="#b9b9b9"/>
<rect x="1152" y="544" width="1" height="1" fill="#b9b9b9"/>
<rect x="1155" y="544" width="1" height="1" fill="#b9b9b9"/>
<rect x="1158" y="544" width="1" height="1" fill="#b9b9b9"/>
<rect x="1161" y="544" width="1" height="1" fill="#b9b9b9"/>
<rect x="1164" y="544" width="1" height="1" fill="#b9b9b9"/>
<rect x="1167" y="544" width="1" height="1" fill="#b9b9b9"/>
<rect x="1170" y="544" width="1" height="1" fill="#b9b9b9"/>
<rect x="1173" y="544" width="1" height="1" fill="#b9b9b9"/>
<rect x="1176" y="544" width="1" height="1" fill="#b9b9b9"/>
<rect x="1179" y="544" width="1" height="1" fill="#b9b9b9"/>
<rect x="1182" y="544" width="1" height="1" fill="#b9b9b9"/>
<rect x="1185" y="544" width="1" height="1" fill="#b9b9b9"/>
<rect x="1188" y="544" width="1" height="1" fill="#b9b9b9"/>
<rect x="1191" y="544" width="1" height="1" fill="#b9b9b9"/>
<rect x="1194" y="544" width="1" height="1" fill="#b9b9b9"/>
<rect x="1197" y="544" width="1" height="1" fill="#b9b9b9"/>
<rect x="45" y="544" width="1" height="2" fill="#b9b9b9"/>
<rect x="108" y="544" width="1" height="2" fill="#b9b9b9"/>
<rect x="168" y="544" width="1" height="2" fill="#b9b9b9"/>
<rect x="234" y="544" width="1" height="2" fill="#b9b9b9"/>
<rect x="297" y="544" width="1" height="2" fill="#b9b9b9"/>
<rect x="366" y="544" width="1" height="2" fill="#b9b9b9"/>
<rect x="429" y="544" width="1" height="2" fill="#b9b9b9"/>
<rect x="495" y="544" width="1" height="2" fill="#b9b9b9"/>
<rect x="564" y="544" width="1" height="2" fill="#b9b9b9"/>
<rect x="624" y="544" width="1" height="2" fill="#b9b9b9"/>
<rect x="690" y="544" width="1" height="2" fill="#b9b9b9"/>
<rect x="753" y="544" width="1" height="2" fill="#b9b9b9"/>
<rect x="813" y="544" width="1" height="2" fill="#b9b9b9"/>
<rect x="879" y="544" width="1" height="2" fill="#b9b9b9"/>
<rect x="942" y="544" width="1" height="2" fill="#b9b9b9"/>
<rect x="1005" y="544" width="1" height="2" fill="#b9b9b9"/>
<rect x="1071" y="544" width="1" height="2" fill="#b9b9b9"/>
<rect x="1140" y="544" width="1" height="2" fill="#b9b9b9"/>
</g>
<g shape-rendering="crispEdges">
<rect x="24" y="378" width="1" height="20" fill="#000000"/>
<rect x="24" y="378" width="2" height="12" fill="#000000"/>
<rect x="24" y="379" width="1" height="10" fill="#fff"/>
<rect x="27" y="372" width="1" height="10" fill="#000000"/>
<rect x="26" y="375" width="3" height="1" fill="#000000"/>
<rect x="30" y="362" width="1" height="16" fill="#000000"/>
<rect x="29" y="362" width="3" height="12" fill="#000000"/>
<rect x="30" y="363" width="1" height="10" fill="#fff"/>
<rect x="33" y="361" width="1" height="13" fill="#000000"/>
<rect x="32" y="362" width="3" height="3" fill="#000000"/>
<rect x="33" y="363" width="1" height="1" fill="#fff"/>
<rect x="36" y="360" width="1" height="12" fill="#d80a32"/>
<rect x="35" y="362" width="3" height="4" fill="#d80a32"/>
<rect x="39" y="365" width="1" height="21" fill="#d80a32"/>
<rect x="38" y="367" width="3" height="5" fill="#d80a32"/>
<rect x="42" y="365" width="1" height="17" fill="#000000"/>
<rect x="41" y="366" width="3" height="4" fill="#000000"/>
<rect x="42" y="367" width="1" height="2" fill="#fff"/>
<rect x="45" y="377" width="1" height="32" fill="#d80a32"/>
<rect x="44" y="377" width="3" height="32" fill="#d80a32"/>
<rect x="48" y="371" width="1" height="26" fill="#000000"/>
<rect x="47" y="371" width="3" height="26" fill="#000000"/>
<rect x="48" y="372" width="1" height="24" fill="#fff"/>
<rect x="51" y="367" width="1" height="11" fill="#d80a32"/>
<rect x="50" y="372" width="3" height="3" fill="#d80a32"/>
<rect x="51" y="373" width="1" height="1" fill="#fff"/>
<rect x="54" y="362" width="1" height="10" fill="#000000"/>
<rect x="53" y="367" width="3" height="1" fill="#000000"/>
<rect x="57" y="365" width="1" height="26" fill="#d80a32"/>
<rect x="56" y="368" width="3" height="23" fill="#d80a32"/>
<rect x="60" y="376" width="1" height="24" fill="#d80a32"/>
<rect x="59" y="390" width="3" height="2" fill="#d80a32"/>
<rect x="63" y="380" width="1" height="14" fill="#d80a32"/>
<rect x="62" y="388" width="3" height="3" fill="#d80a32"/>
<rect x="66" y="396" width="1" height="16" fill="#d80a32"/>
<rect x="65" y="396" width="3" height="8" fill="#d80a32"/>
<rect x="69" y="398" width="1" height="26" fill="#d80a32"/>
<rect x="68" y="401" width="3" height="23" fill="#d80a32"/>
<rect x="72" y="425" width="1" height="20" fill="#d80a32"/>
<rect x="71" y="429" width="3" height="1" fill="#d80a32"/>
<rect x="75" y="408" width="1" height="23" fill="#000000"/>
<rect x="74" y="410" width="3" height="21" fill="#000000"/>
<rect x="75" y="411" width="1" height="19" fill="#fff"/>
<rect x="78" y="389" width="1" height="31" fill="#000000"/>
<rect x="77" y="400" width="3" height="12" fill="#000000"/>
<rect x="78" y="401" width="1" height="10" fill="#fff"/>
<rect x="81" y="392" width="1" height="12" fill="#000000"/>
<rect x="80" y="392" width="3" height="6" fill="#000000"/>
<rect x="81" y="393" width="1" height="4" fill="#fff"/>
<rect x="84" y="392" width="1" height="22" fill="#000000"/>
<rect x="83" y="392" width="3" height="14" fill="#000000"/>
<rect x="84" y="393" width="1" height="12" fill="#fff"/>
<rect x="87" y="383" width="1" height="11" fill="#000000"/>
<rect x="86" y="389" width="3" height="5" fill="#000000"/>
<rect x="87" y="390" width="1" height="3" fill="#fff"/>
<rect x="90" y="388" width="1" height="24" fill="#d80a32"/>
<rect x="89" y="391" width="3" height="17" fill="#d80a32"/>
<rect x="93" y="385" width="1" height="21" fill="#000000"/>
<rect x="92" y="389" width="3" height="17" fill="#000000"/>
<rect x="93" y="390" width="1" height="15" fill="#fff"/>
<rect x="96" y="370" width="1" height="16" fill="#000000"/>
<rect x="95" y="374" width="3" height="12" fill="#000000"/>
<rect x="96" y="375" width="1" height="10" fill="#fff"/>
<rect x="99" y="371" width="1" height="9" fill="#000000"/>
<rect x="98" y="373" width="3" height="5" fill="#000000"/>
<rect x="99" y="374" width="1" height="3" fill="#fff"/>
<rect x="102" y="356" width="1" height="14" fill="#000000"/>
<rect x="101" y="356" width="3" height="14" fill="#000000"/>
<rect x="102" y="357" width="1" height="12" fill="#fff"/>
<rect x="105" y="350" width="1" height="11" fill="#d80a32"/>
<rect x="104" y="352" width="3" height="9" fill="#d80a32"/>
<rect x="108" y="346" width="1" height="12" fill="#000000"/>
<rect x="107" y="350" width="3" height="8" fill="#000000"/>
<rect x="108" y="351" width="1" height="6" fill="#fff"/>
<rect x="111" y="346" width="1" height="6" fill="#000000"/>
<rect x="110" y="349" width="3" height="1" fill="#000000"/>
<rect x="114" y="334" width="1" height="18" fill="#000000"/>
<rect x="113" y="340" width="3" height="8" fill="#000000"/>
<rect x="114" y="341" width="1" height="6" fill="#fff"/>
<rect x="117" y="326" width="1" height="16" fill="#000000"/>
<rect x="116" y="330" width="3" height="10" fill="#000000"/>
<rect x="117" y="331" width="1" height="8" fill="#fff"/>
<rect x="120" y="335" width="1" height="16" fill="#d80a32"/>
<rect x="119" y="335" width="3" height="16" fill="#d80a32"/>
<rect x="123" y="345" width="1" height="23" fill="#d80a32"/>
<rect x="122" y="348" width="3" height="6" fill="#d80a32"/>
<rect x="126" y="346" width="1" height="10" fill="#000000"/>
<rect x="125" y="352" width="3" height="1" fill="#000000"/>
<rect x="129" y="345" width="1" height="20" fill="#d80a32"/>
<rect x="128" y="348" width="3" height="17" fill="#d80a32"/>
<rect x="132" y="371" width="1" height="19" fill="#d80a32"/>
<rect x="131" y="371" width="3" height="9" fill="#d80a32"/>
<rect x="135" y="374" width="1" height="22" fill="#000000"/>
<rect x="134" y="374" width="3" height="10" fill="#000000"/>
<rect x="135" y="375" width="1" height="8" fill="#fff"/>
<rect x="138" y="370" width="1" height="22" fill="#d80a32"/>
<rect x="137" y="374" width="3" height="18" fill="#d80a32"/>
<rect x="141" y="370" width="1" height="12" fill="#000000"/>
<rect x="140" y="370" width="3" height="10" fill="#000000"/>
<rect x="141" y="371" width="1" height="8" fill="#fff"/>
<rect x="144" y="362" width="1" height="9" fill="#000000"/>
<rect x="143" y="363" width="3" height="8" fill="#000000"/>
<rect x="144" y="364" width="1" height="6" fill="#fff"/>
<rect x="147" y="343" width="1" height="20" fill="#000000"/>
<rect x="146" y="343" width="3" height="18" fill="#000000"/>
<rect x="147" y="344" width="1" height="16" fill="#fff"/>
<rect x="150" y="344" width="1" height="10" fill="#d80a32"/>
<rect x="149" y="345" width="3" height="9" fill="#d80a32"/>
<rect x="153" y="340" width="1" height="26" fill="#000000"/>
<rect x="152" y="348" width="3" height="1" fill="#000000"/>
<rect x="156" y="352" width="1" height="20" fill="#d80a32"/>
<rect x="155" y="352" width="3" height="16" fill="#d80a32"/>
<rect x="159" y="354" width="1" height="12" fill="#000000"/>
<rect x="158" y="359" width="3" height="5" fill="#000000"/>
<rect x="159" y="360" width="1" height="3" fill="#fff"/>
<rect x="162" y="338" width="1" height="19" fill="#000000"/>
<rect x="161" y="340" width="3" height="17" fill="#000000"/>
<rect x="162" y="341" width="1" height="15" fill="#fff"/>
<rect x="165" y="341" width="1" height="9" fill="#d80a32"/>
<rect x="164" y="344" width="3" height="1" fill="#d80a32"/>
<rect x="168" y="344" width="1" height="1" fill="#000000"/>
<rect x="167" y="344" width="3" height="1" fill="#000000"/>
<rect x="171" y="344" width="1" height="12" fill="#d80a32"/>
<rect x="170" y="346" width="3" height="8" fill="#d80a32"/>
<rect x="174" y="354" width="1" height="21" fill="#d80a32"/>
<rect x="173" y="356" width="3" height="1" fill="#d80a32"/>
<rect x="177" y="351" width="1" height="19" fill="#d80a32"/>
<rect x="176" y="354" width="3" height="13" fill="#d80a32"/>
<rect x="180" y="358" width="1" height="18" fill="#000000"/>
<rect x="179" y="361" width="3" height="10" fill="#000000"/>
<rect x="180" y="362" width="1" height="8" fill="#fff"/>
<rect x="183" y="341" width="1" height="23" fill="#000000"/>
<rect x="182" y="341" width="3" height="17" fill="#000000"/>
<rect x="183" y="342" width="1" height="15" fill="#fff"/>
<rect x="186" y="344" width="1" height="12" fill="#d80a32"/>
<rect x="185" y="344" width="3" height="7" fill="#d80a32"/>
<rect x="189" y="338" width="1" height="14" fill="#000000"/>
<rect x="188" y="340" width="3" height="11" fill="#000000"/>
<rect x="189" y="341" width="1" height="9" fill="#fff"/>
<rect x="192" y="335" width="1" height="7" fill="#000000"/>
<rect x="191" y="338" width="3" height="1" fill="#000000"/>
<rect x="195" y="337" width="1" height="8" fill="#d80a32"/>
<rect x="194" y="339" width="3" height="1" fill="#d80a32"/>
<rect x="198" y="333" width="1" height="29" fill="#d80a32"/>
<rect x="197" y="338" width="3" height="23" fill="#d80a32"/>
<rect x="201" y="354" width="1" height="16" fill="#000000"/>
<rect x="200" y="355" width="3" height="7" fill="#000000"/>
<rect x="201" y="356" width="1" height="5" fill="#fff"/>
<rect x="204" y="355" width="1" height="18" fill="#d80a32"/>
<rect x="203" y="357" width="3" height="1" fill="#d80a32"/>
<rect x="207" y="354" width="1" height="10" fill="#d80a32"/>
<rect x="206" y="358" width="3" height="2" fill="#d80a32"/>
<rect x="210" y="348" width="1" height="20" fill="#000000"/>
<rect x="209" y="349" width="3" height="13" fill="#000000"/>
<rect x="210" y="350" width="1" height="11" fill="#fff"/>
<rect x="213" y="348" width="1" height="9" fill="#000000"/>
<rect x="212" y="348" width="3" height="3" fill="#000000"/>
<rect x="213" y="349" width="1" height="1" fill="#fff"/>
<rect x="216" y="341" width="1" height="13" fill="#000000"/>
<rect x="215" y="342" width="3" height="7" fill="#000000"/>
<rect x="216" y="343" width="1" height="5" fill="#fff"/>
<rect x="219" y="326" width="1" height="13" fill="#000000"/>
<rect x="218" y="326" width="3" height="13" fill="#000000"/>
<rect x="219" y="327" width="1" height="11" fill="#fff"/>
<rect x="222" y="321" width="1" height="9" fill="#000000"/>
<rect x="221" y="324" width="3" height="5" fill="#000000"/>
<rect x="222" y="325" width="1" height="3" fill="#fff"/>
<rect x="225" y="323" width="1" height="7" fill="#000000"/>
<rect x="224" y="323" width="3" height="3" fill="#000000"/>
<rect x="225" y="324" width="1" height="1" fill="#fff"/>
<rect x="228" y="321" width="1" height="8" fill="#d80a32"/>
<rect x="227" y="324" width="3" height="1" fill="#d80a32"/>
<rect x="231" y="322" width="1" height="7" fill="#d80a32"/>
<rect x="230" y="324" width="3" height="3" fill="#d80a32"/>
<rect x="231" y="325" width="1" height="1" fill="#fff"/>
<rect x="234" y="319" width="1" height="8" fill="#000000"/>
<rect x="233" y="322" width="3" height="1" fill="#000000"/>
<rect x="237" y="321" width="1" height="9" fill="#d80a32"/>
<rect x="236" y="322" width="3" height="4" fill="#d80a32"/>
<rect x="240" y="324" width="1" height="12" fill="#d80a32"/>
<rect x="239" y="327" width="3" height="1" fill="#d80a32"/>
<rect x="243" y="314" width="1" height="18" fill="#000000"/>
<rect x="242" y="314" width="3" height="12" fill="#000000"/>
<rect x="243" y="315" width="1" height="10" fill="#fff"/>
<rect x="246" y="300" width="1" height="17" fill="#000000"/>
<rect x="245" y="302" width="3" height="13" fill="#000000"/>
<rect x="246" y="303" width="1" height="11" fill="#fff"/>
<rect x="249" y="298" width="1" height="7" fill="#000000"/>
<rect x="248" y="298" width="3" height="4" fill="#000000"/>
<rect x="249" y="299" width="1" height="2" fill="#fff"/>
<rect x="252" y="294" width="1" height="7" fill="#000000"/>
<rect x="251" y="294" width="3" height="4" fill="#000000"/>
<rect x="252" y="295" width="1" height="2" fill="#fff"/>
<rect x="255" y="294" width="1" height="13" fill="#d80a32"/>
<rect x="254" y="294" width="3" height="11" fill="#d80a32"/>
<rect x="258" y="300" width="1" height="10" fill="#d80a32"/>
<rect x="257" y="305" width="3" height="1" fill="#d80a32"/>
<rect x="261" y="303" width="1" height="17" fill="#d80a32"/>
<rect x="260" y="307" width="3" height="1" fill="#d80a32"/>
<rect x="264" y="309" width="1" height="9" fill="#d80a32"/>
<rect x="263" y="310" width="3" height="7" fill="#d80a32"/>
<rect x="267" y="306" width="1" height="14" fill="#000000"/>
<rect x="266" y="311" width="3" height="3" fill="#000000"/>
<rect x="267" y="312" width="1" height="1" fill="#fff"/>
<rect x="270" y="304" width="1" height="7" fill="#000000"/>
<rect x="269" y="308" width="3" height="2" fill="#000000"/>
<rect x="273" y="288" width="1" height="11" fill="#000000"/>
<rect x="272" y="294" width="3" height="5" fill="#000000"/>
<rect x="273" y="295" width="1" height="3" fill="#fff"/>
<rect x="276" y="289" width="1" height="10" fill="#d80a32"/>
<rect x="275" y="294" width="3" height="4" fill="#d80a32"/>
<rect x="279" y="299" width="1" height="14" fill="#d80a32"/>
<rect x="278" y="299" width="3" height="9" fill="#d80a32"/>
<rect x="282" y="303" width="1" height="8" fill="#000000"/>
<rect x="281" y="304" width="3" height="3" fill="#000000"/>
<rect x="285" y="311" width="1" height="14" fill="#d80a32"/>
<rect x="284" y="311" width="3" height="10" fill="#d80a32"/>
<rect x="288" y="316" width="1" height="21" fill="#d80a32"/>
<rect x="287" y="319" width="3" height="13" fill="#d80a32"/>
<rect x="291" y="322" width="1" height="13" fill="#d80a32"/>
<rect x="290" y="327" width="3" height="5" fill="#d80a32"/>
<rect x="294" y="322" width="1" height="17" fill="#000000"/>
<rect x="293" y="330" width="3" height="2" fill="#000000"/>
<rect x="297" y="317" width="1" height="11" fill="#000000"/>
<rect x="296" y="317" width="3" height="11" fill="#000000"/>
<rect x="297" y="318" width="1" height="9" fill="#fff"/>
<rect x="300" y="314" width="1" height="11" fill="#d80a32"/>
<rect x="299" y="318" width="3" height="3" fill="#d80a32"/>
<rect x="303" y="304" width="1" height="20" fill="#000000"/>
<rect x="302" y="304" width="3" height="18" fill="#000000"/>
<rect x="303" y="305" width="1" height="16" fill="#fff"/>
<rect x="306" y="305" width="1" height="7" fill="#d80a32"/>
<rect x="305" y="305" width="3" height="7" fill="#d80a32"/>
<rect x="309" y="313" width="1" height="17" fill="#d80a32"/>
<rect x="308" y="315" width="3" height="15" fill="#d80a32"/>
<rect x="312" y="326" width="1" height="25" fill="#d80a32"/>
<rect x="311" y="326" width="3" height="25" fill="#d80a32"/>
<rect x="315" y="341" width="1" height="10" fill="#000000"/>
<rect x="314" y="341" width="3" height="8" fill="#000000"/>
<rect x="315" y="342" width="1" height="6" fill="#fff"/>
<rect x="318" y="344" width="1" height="30" fill="#d80a32"/>
<rect x="317" y="344" width="3" height="22" fill="#d80a32"/>
<rect x="321" y="355" width="1" height="14" fill="#000000"/>
<rect x="320" y="362" width="3" height="1" fill="#000000"/>
<rect x="324" y="348" width="1" height="13" fill="#000000"/>
<rect x="323" y="350" width="3" height="11" fill="#000000"/>
<rect x="324" y="351" width="1" height="9" fill="#fff"/>
<rect x="327" y="351" width="1" height="14" fill="#d80a32"/>
<rect x="326" y="351" width="3" height="14" fill="#d80a32"/>
<rect x="330" y="342" width="1" height="17" fill="#000000"/>
<rect x="329" y="342" width="3" height="17" fill="#000000"/>
<rect x="330" y="343" width="1" height="15" fill="#fff"/>
<rect x="333" y="346" width="1" height="17" fill="#d80a32"/>
<rect x="332" y="347" width="3" height="16" fill="#d80a32"/>
<rect x="336" y="359" width="1" height="15" fill="#000000"/>
<rect x="335" y="359" width="3" height="7" fill="#000000"/>
<rect x="336" y="360" width="1" height="5" fill="#fff"/>
<rect x="339" y="359" width="1" height="16" fill="#d80a32"/>
<rect x="338" y="359" width="3" height="13" fill="#d80a32"/>
<rect x="342" y="348" width="1" height="19" fill="#000000"/>
<rect x="341" y="348" width="3" height="19" fill="#000000"/>
<rect x="342" y="349" width="1" height="17" fill="#fff"/>
<rect x="345" y="339" width="1" height="15" fill="#000000"/>
<rect x="344" y="346" width="3" height="6" fill="#000000"/>
<rect x="345" y="347" width="1" height="4" fill="#fff"/>
<rect x="348" y="333" width="1" height="25" fill="#000000"/>
<rect x="347" y="335" width="3" height="13" fill="#000000"/>
<rect x="348" y="336" width="1" height="11" fill="#fff"/>
<rect x="351" y="334" width="1" height="25" fill="#d80a32"/>
<rect x="350" y="338" width="3" height="17" fill="#d80a32"/>
<rect x="354" y="348" width="1" height="19" fill="#d80a32"/>
<rect x="353" y="351" width="3" height="6" fill="#d80a32"/>
<rect x="357" y="341" width="1" height="19" fill="#000000"/>
<rect x="356" y="348" width="3" height="6" fill="#000000"/>
<rect x="357" y="349" width="1" height="4" fill="#fff"/>
<rect x="360" y="339" width="1" height="21" fill="#d80a32"/>
<rect x="359" y="350" width="3" height="8" fill="#d80a32"/>
<rect x="363" y="353" width="1" height="31" fill="#d80a32"/>
<rect x="362" y="354" width="3" height="28" fill="#d80a32"/>
<rect x="366" y="379" width="1" height="25" fill="#d80a32"/>
<rect x="365" y="379" width="3" height="22" fill="#d80a32"/>
<rect x="369" y="390" width="1" height="15" fill="#d80a32"/>
<rect x="368" y="395" width="3" height="7" fill="#d80a32"/>
<rect x="372" y="390" width="1" height="16" fill="#000000"/>
<rect x="371" y="396" width="3" height="5" fill="#000000"/>
<rect x="375" y="404" width="1" height="21" fill="#d80a32"/>
<rect x="374" y="404" width="3" height="6" fill="#d80a32"/>
<rect x="378" y="405" width="1" height="24" fill="#d80a32"/>
<rect x="377" y="410" width="3" height="17" fill="#d80a32"/>
<rect x="381" y="420" width="1" height="23" fill="#d80a32"/>
<rect x="380" y="429" width="3" height="3" fill="#d80a32"/>
<rect x="381" y="430" width="1" height="1" fill="#fff"/>
<rect x="384" y="408" width="1" height="16" fill="#000000"/>
<rect x="383" y="411" width="3" height="13" fill="#000000"/>
<rect x="384" y="412" width="1" height="11" fill="#fff"/>
<rect x="387" y="409" width="1" height="16" fill="#d80a32"/>
<rect x="386" y="416" width="3" height="6" fill="#d80a32"/>
<rect x="390" y="404" width="1" height="14" fill="#000000"/>
<rect x="389" y="407" width="3" height="11" fill="#000000"/>
<rect x="390" y="408" width="1" height="9" fill="#fff"/>
<rect x="393" y="400" width="1" height="18" fill="#000000"/>
<rect x="392" y="406" width="3" height="5" fill="#000000"/>
<rect x="393" y="407" width="1" height="3" fill="#fff"/>
<rect x="396" y="390" width="1" height="30" fill="#d80a32"/>
<rect x="395" y="404" width="3" height="14" fill="#d80a32"/>
<rect x="399" y="396" width="1" height="12" fill="#000000"/>
<rect x="398" y="399" width="3" height="9" fill="#000000"/>
<rect x="399" y="400" width="1" height="7" fill="#fff"/>
<rect x="402" y="390" width="1" height="8" fill="#000000"/>
<rect x="401" y="391" width="3" height="7" fill="#000000"/>
<rect x="402" y="392" width="1" height="5" fill="#fff"/>
<rect x="405" y="391" width="1" height="13" fill="#d80a32"/>
<rect x="404" y="395" width="3" height="1" fill="#d80a32"/>
<rect x="408" y="377" width="1" height="22" fill="#000000"/>
<rect x="407" y="377" width="3" height="18" fill="#000000"/>
<rect x="408" y="378" width="1" height="16" fill="#fff"/>
<rect x="411" y="377" width="1" height="19" fill="#d80a32"/>
<rect x="410" y="377" width="3" height="12" fill="#d80a32"/>
<rect x="414" y="360" width="1" height="17" fill="#000000"/>
<rect x="413" y="360" width="3" height="17" fill="#000000"/>
<rect x="414" y="361" width="1" height="15" fill="#fff"/>
<rect x="417" y="344" width="1" height="22" fill="#000000"/>
<rect x="416" y="344" width="3" height="17" fill="#000000"/>
<rect x="417" y="345" width="1" height="15" fill="#fff"/>
<rect x="420" y="342" width="1" height="10" fill="#d80a32"/>
<rect x="419" y="346" width="3" height="1" fill="#d80a32"/>
<rect x="423" y="347" width="1" height="17" fill="#d80a32"/>
<rect x="422" y="347" width="3" height="14" fill="#d80a32"/>
<rect x="426" y="349" width="1" height="22" fill="#000000"/>
<rect x="425" y="355" width="3" height="2" fill="#000000"/>
<rect x="429" y="351" width="1" height="12" fill="#000000"/>
<rect x="428" y="354" width="3" height="1" fill="#000000"/>
<rect x="432" y="344" width="1" height="11" fill="#000000"/>
<rect x="431" y="352" width="3" height="1" fill="#000000"/>
<rect x="435" y="328" width="1" height="20" fill="#000000"/>
<rect x="434" y="336" width="3" height="12" fill="#000000"/>
<rect x="435" y="337" width="1" height="10" fill="#fff"/>
<rect x="438" y="305" width="1" height="39" fill="#000000"/>
<rect x="437" y="309" width="3" height="30" fill="#000000"/>
<rect x="438" y="310" width="1" height="28" fill="#fff"/>
<rect x="441" y="306" width="1" height="12" fill="#d80a32"/>
<rect x="440" y="310" width="3" height="1" fill="#d80a32"/>
<rect x="444" y="310" width="1" height="10" fill="#d80a32"/>
<rect x="443" y="310" width="3" height="5" fill="#d80a32"/>
<rect x="447" y="314" width="1" height="12" fill="#d80a32"/>
<rect x="446" y="317" width="3" height="7" fill="#d80a32"/>
<rect x="450" y="322" width="1" height="11" fill="#d80a32"/>
<rect x="449" y="325" width="3" height="1" fill="#d80a32"/>
<rect x="453" y="319" width="1" height="18" fill="#d80a32"/>
<rect x="452" y="320" width="3" height="8" fill="#d80a32"/>
<rect x="456" y="323" width="1" height="12" fill="#d80a32"/>
<rect x="455" y="324" width="3" height="4" fill="#d80a32"/>
<rect x="459" y="326" width="1" height="10" fill="#d80a32"/>
<rect x="458" y="329" width="3" height="3" fill="#d80a32"/>
<rect x="459" y="330" width="1" height="1" fill="#fff"/>
<rect x="462" y="331" width="1" height="10" fill="#d80a32"/>
<rect x="461" y="331" width="3" height="4" fill="#d80a32"/>
<rect x="465" y="323" width="1" height="8" fill="#000000"/>
<rect x="464" y="327" width="3" height="3" fill="#000000"/>
<rect x="465" y="328" width="1" height="1" fill="#fff"/>
<rect x="468" y="311" width="1" height="17" fill="#000000"/>
<rect x="467" y="312" width="3" height="15" fill="#000000"/>
<rect x="468" y="313" width="1" height="13" fill="#fff"/>
<rect x="471" y="299" width="1" height="16" fill="#000000"/>
<rect x="470" y="305" width="3" height="7" fill="#000000"/>
<rect x="474" y="311" width="1" height="10" fill="#d80a32"/>
<rect x="473" y="316" width="3" height="3" fill="#d80a32"/>
<rect x="477" y="320" width="1" height="24" fill="#d80a32"/>
<rect x="476" y="320" width="3" height="22" fill="#d80a32"/>
<rect x="480" y="324" width="1" height="24" fill="#000000"/>
<rect x="479" y="324" width="3" height="15" fill="#000000"/>
<rect x="480" y="325" width="1" height="13" fill="#fff"/>
<rect x="483" y="317" width="1" height="31" fill="#d80a32"/>
<rect x="482" y="325" width="3" height="18" fill="#d80a32"/>
<rect x="486" y="330" width="1" height="19" fill="#000000"/>
<rect x="485" y="336" width="3" height="5" fill="#000000"/>
<rect x="486" y="337" width="1" height="3" fill="#fff"/>
<rect x="489" y="333" width="1" height="26" fill="#d80a32"/>
<rect x="488" y="335" width="3" height="15" fill="#d80a32"/>
<rect x="492" y="327" width="1" height="21" fill="#000000"/>
<rect x="491" y="332" width="3" height="12" fill="#000000"/>
<rect x="492" y="333" width="1" height="10" fill="#fff"/>
<rect x="495" y="327" width="1" height="22" fill="#d80a32"/>
<rect x="494" y="335" width="3" height="12" fill="#d80a32"/>
<rect x="498" y="344" width="1" height="42" fill="#d80a32"/>
<rect x="497" y="348" width="3" height="38" fill="#d80a32"/>
<rect x="501" y="370" width="1" height="11" fill="#000000"/>
<rect x="500" y="374" width="3" height="3" fill="#000000"/>
<rect x="501" y="375" width="1" height="1" fill="#fff"/>
<rect x="504" y="357" width="1" height="17" fill="#000000"/>
<rect x="503" y="366" width="3" height="5" fill="#000000"/>
<rect x="507" y="375" width="1" height="21" fill="#d80a32"/>
<rect x="506" y="375" width="3" height="21" fill="#d80a32"/>
<rect x="510" y="393" width="1" height="19" fill="#d80a32"/>
<rect x="509" y="399" width="3" height="10" fill="#d80a32"/>
<rect x="513" y="392" width="1" height="28" fill="#d80a32"/>
<rect x="512" y="400" width="3" height="14" fill="#d80a32"/>
<rect x="516" y="416" width="1" height="22" fill="#d80a32"/>
<rect x="515" y="418" width="3" height="18" fill="#d80a32"/>
<rect x="519" y="424" width="1" height="25" fill="#000000"/>
<rect x="518" y="432" width="3" height="14" fill="#000000"/>
<rect x="519" y="433" width="1" height="12" fill="#fff"/>
<rect x="522" y="428" width="1" height="28" fill="#000000"/>
<rect x="521" y="432" width="3" height="7" fill="#000000"/>
<rect x="522" y="433" width="1" height="5" fill="#fff"/>
<rect x="525" y="429" width="1" height="53" fill="#d80a32"/>
<rect x="524" y="431" width="3" height="49" fill="#d80a32"/>
<rect x="528" y="464" width="1" height="61" fill="#d80a32"/>
<rect x="527" y="471" width="3" height="17" fill="#d80a32"/>
<rect x="531" y="447" width="1" height="42" fill="#000000"/>
<rect x="530" y="448" width="3" height="38" fill="#000000"/>
<rect x="531" y="449" width="1" height="36" fill="#fff"/>
<rect x="534" y="451" width="1" height="21" fill="#d80a32"/>
<rect x="533" y="451" width="3" height="14" fill="#d80a32"/>
<rect x="537" y="436" width="1" height="38" fill="#000000"/>
<rect x="536" y="436" width="3" height="32" fill="#000000"/>
<rect x="537" y="437" width="1" height="30" fill="#fff"/>
<rect x="540" y="428" width="1" height="17" fill="#000000"/>
<rect x="539" y="428" width="3" height="6" fill="#000000"/>
<rect x="540" y="429" width="1" height="4" fill="#fff"/>
<rect x="543" y="409" width="1" height="36" fill="#000000"/>
<rect x="542" y="412" width="3" height="20" fill="#000000"/>
<rect x="543" y="413" width="1" height="18" fill="#fff"/>
<rect x="546" y="412" width="1" height="13" fill="#d80a32"/>
<rect x="545" y="417" width="3" height="2" fill="#d80a32"/>
<rect x="549" y="404" width="1" height="39" fill="#d80a32"/>
<rect x="548" y="409" width="3" height="24" fill="#d80a32"/>
<rect x="552" y="413" width="1" height="14" fill="#000000"/>
<rect x="551" y="416" width="3" height="9" fill="#000000"/>
<rect x="552" y="417" width="1" height="7" fill="#fff"/>
<rect x="555" y="408" width="1" height="17" fill="#d80a32"/>
<rect x="554" y="412" width="3" height="10" fill="#d80a32"/>
<rect x="558" y="410" width="1" height="38" fill="#000000"/>
<rect x="557" y="416" width="3" height="3" fill="#000000"/>
<rect x="558" y="417" width="1" height="1" fill="#fff"/>
<rect x="561" y="379" width="1" height="24" fill="#000000"/>
<rect x="560" y="382" width="3" height="21" fill="#000000"/>
<rect x="561" y="383" width="1" height="19" fill="#fff"/>
<rect x="564" y="380" width="1" height="19" fill="#d80a32"/>
<rect x="563" y="384" width="3" height="12" fill="#d80a32"/>
<rect x="567" y="388" width="1" height="32" fill="#d80a32"/>
<rect x="566" y="398" width="3" height="20" fill="#d80a32"/>
<rect x="570" y="390" width="1" height="22" fill="#000000"/>
<rect x="569" y="391" width="3" height="15" fill="#000000"/>
<rect x="570" y="392" width="1" height="13" fill="#fff"/>
<rect x="573" y="369" width="1" height="33" fill="#000000"/>
<rect x="572" y="388" width="3" height="8" fill="#000000"/>
<rect x="573" y="389" width="1" height="6" fill="#fff"/>
<rect x="576" y="382" width="1" height="31" fill="#d80a32"/>
<rect x="575" y="384" width="3" height="20" fill="#d80a32"/>
<rect x="579" y="391" width="1" height="19" fill="#000000"/>
<rect x="578" y="391" width="3" height="15" fill="#000000"/>
<rect x="579" y="392" width="1" height="13" fill="#fff"/>
<rect x="582" y="379" width="1" height="13" fill="#000000"/>
<rect x="581" y="385" width="3" height="5" fill="#000000"/>
<rect x="582" y="386" width="1" height="3" fill="#fff"/>
<rect x="585" y="388" width="1" height="26" fill="#d80a32"/>
<rect x="584" y="388" width="3" height="24" fill="#d80a32"/>
<rect x="588" y="397" width="1" height="23" fill="#000000"/>
<rect x="587" y="405" width="3" height="2" fill="#000000"/>
<rect x="591" y="401" width="1" height="18" fill="#000000"/>
<rect x="590" y="404" width="3" height="1" fill="#000000"/>
<rect x="594" y="391" width="1" height="28" fill="#000000"/>
<rect x="593" y="394" width="3" height="19" fill="#000000"/>
<rect x="594" y="395" width="1" height="17" fill="#fff"/>
<rect x="597" y="378" width="1" height="17" fill="#000000"/>
<rect x="596" y="378" width="3" height="16" fill="#000000"/>
<rect x="597" y="379" width="1" height="14" fill="#fff"/>
<rect x="600" y="370" width="1" height="14" fill="#000000"/>
<rect x="599" y="378" width="3" height="1" fill="#000000"/>
<rect x="603" y="378" width="1" height="21" fill="#d80a32"/>
<rect x="602" y="378" width="3" height="10" fill="#d80a32"/>
<rect x="606" y="345" width="1" height="39" fill="#000000"/>
<rect x="605" y="346" width="3" height="38" fill="#000000"/>
<rect x="606" y="347" width="1" height="36" fill="#fff"/>
<rect x="609" y="327" width="1" height="20" fill="#000000"/>
<rect x="608" y="339" width="3" height="5" fill="#000000"/>
<rect x="609" y="340" width="1" height="3" fill="#fff"/>
<rect x="612" y="322" width="1" height="19" fill="#000000"/>
<rect x="611" y="333" width="3" height="7" fill="#000000"/>
<rect x="612" y="334" width="1" height="5" fill="#fff"/>
<rect x="615" y="324" width="1" height="13" fill="#d80a32"/>
<rect x="614" y="332" width="3" height="1" fill="#d80a32"/>
<rect x="618" y="322" width="1" height="12" fill="#000000"/>
<rect x="617" y="324" width="3" height="8" fill="#000000"/>
<rect x="618" y="325" width="1" height="6" fill="#fff"/>
<rect x="621" y="322" width="1" height="12" fill="#000000"/>
<rect x="620" y="322" width="3" height="4" fill="#000000"/>
<rect x="621" y="323" width="1" height="2" fill="#fff"/>
<rect x="624" y="326" width="1" height="12" fill="#d80a32"/>
<rect x="623" y="329" width="3" height="3" fill="#d80a32"/>
<rect x="624" y="330" width="1" height="1" fill="#fff"/>
<rect x="627" y="316" width="1" height="18" fill="#000000"/>
<rect x="626" y="326" width="3" height="1" fill="#000000"/>
<rect x="630" y="318" width="1" height="10" fill="#000000"/>
<rect x="629" y="322" width="3" height="4" fill="#000000"/>
<rect x="630" y="323" width="1" height="2" fill="#fff"/>
<rect x="633" y="311" width="1" height="40" fill="#d80a32"/>
<rect x="632" y="320" width="3" height="27" fill="#d80a32"/>
<rect x="636" y="308" width="1" height="32" fill="#000000"/>
<rect x="635" y="308" width="3" height="32" fill="#000000"/>
<rect x="636" y="309" width="1" height="30" fill="#fff"/>
<rect x="639" y="311" width="1" height="11" fill="#d80a32"/>
<rect x="638" y="314" width="3" height="8" fill="#d80a32"/>
<rect x="642" y="330" width="1" height="31" fill="#d80a32"/>
<rect x="641" y="330" width="3" height="31" fill="#d80a32"/>
<rect x="645" y="344" width="1" height="27" fill="#d80a32"/>
<rect x="644" y="357" width="3" height="8" fill="#d80a32"/>
<rect x="648" y="354" width="1" height="21" fill="#000000"/>
<rect x="647" y="362" width="3" height="6" fill="#000000"/>
<rect x="648" y="363" width="1" height="4" fill="#fff"/>
<rect x="651" y="367" width="1" height="36" fill="#d80a32"/>
<rect x="650" y="367" width="3" height="36" fill="#d80a32"/>
<rect x="654" y="391" width="1" height="49" fill="#d80a32"/>
<rect x="653" y="403" width="3" height="37" fill="#d80a32"/>
<rect x="657" y="410" width="1" height="57" fill="#000000"/>
<rect x="656" y="410" width="3" height="24" fill="#000000"/>
<rect x="657" y="411" width="1" height="22" fill="#fff"/>
<rect x="660" y="403" width="1" height="28" fill="#000000"/>
<rect x="659" y="409" width="3" height="13" fill="#000000"/>
<rect x="660" y="410" width="1" height="11" fill="#fff"/>
<rect x="663" y="364" width="1" height="32" fill="#000000"/>
<rect x="662" y="364" width="3" height="32" fill="#000000"/>
<rect x="663" y="365" width="1" height="30" fill="#fff"/>
<rect x="666" y="351" width="1" height="31" fill="#d80a32"/>
<rect x="665" y="356" width="3" height="13" fill="#d80a32"/>
<rect x="669" y="354" width="1" height="16" fill="#000000"/>
<rect x="668" y="363" width="3" height="3" fill="#000000"/>
<rect x="669" y="364" width="1" height="1" fill="#fff"/>
<rect x="672" y="347" width="1" height="18" fill="#000000"/>
<rect x="671" y="347" width="3" height="14" fill="#000000"/>
<rect x="672" y="348" width="1" height="12" fill="#fff"/>
<rect x="675" y="348" width="1" height="3" fill="#d80a32"/>
<rect x="674" y="348" width="3" height="3" fill="#d80a32"/>
<rect x="678" y="348" width="1" height="3" fill="#000000"/>
<rect x="677" y="348" width="3" height="3" fill="#000000"/>
<rect x="681" y="348" width="1" height="26" fill="#000000"/>
<rect x="680" y="348" width="3" height="3" fill="#000000"/>
<rect x="684" y="356" width="1" height="16" fill="#d80a32"/>
<rect x="683" y="356" width="3" height="16" fill="#d80a32"/>
<rect x="687" y="367" width="1" height="4" fill="#000000"/>
<rect x="686" y="367" width="3" height="4" fill="#000000"/>
<rect x="687" y="368" width="1" height="2" fill="#fff"/>
<rect x="690" y="353" width="1" height="29" fill="#d80a32"/>
<rect x="689" y="357" width="3" height="10" fill="#d80a32"/>
<rect x="693" y="365" width="1" height="59" fill="#d80a32"/>
<rect x="692" y="376" width="3" height="46" fill="#d80a32"/>
<rect x="696" y="405" width="1" height="28" fill="#d80a32"/>
<rect x="695" y="417" width="3" height="12" fill="#d80a32"/>
<rect x="699" y="407" width="1" height="24" fill="#000000"/>
<rect x="698" y="420" width="3" height="4" fill="#000000"/>
<rect x="699" y="421" width="1" height="2" fill="#fff"/>
<rect x="702" y="370" width="1" height="40" fill="#000000"/>
<rect x="701" y="372" width="3" height="38" fill="#000000"/>
<rect x="702" y="373" width="1" height="36" fill="#fff"/>
<rect x="705" y="375" width="1" height="48" fill="#d80a32"/>
<rect x="704" y="375" width="3" height="39" fill="#d80a32"/>
<rect x="708" y="389" width="1" height="29" fill="#000000"/>
<rect x="707" y="394" width="3" height="13" fill="#000000"/>
<rect x="708" y="395" width="1" height="11" fill="#fff"/>
<rect x="711" y="367" width="1" height="37" fill="#000000"/>
<rect x="710" y="374" width="3" height="28" fill="#000000"/>
<rect x="711" y="375" width="1" height="26" fill="#fff"/>
<rect x="714" y="366" width="1" height="33" fill="#d80a32"/>
<rect x="713" y="384" width="3" height="9" fill="#d80a32"/>
<rect x="717" y="357" width="1" height="67" fill="#000000"/>
<rect x="716" y="362" width="3" height="20" fill="#000000"/>
<rect x="717" y="363" width="1" height="18" fill="#fff"/>
<rect x="720" y="340" width="1" height="34" fill="#000000"/>
<rect x="719" y="342" width="3" height="25" fill="#000000"/>
<rect x="720" y="343" width="1" height="23" fill="#fff"/>
<rect x="723" y="327" width="1" height="18" fill="#000000"/>
<rect x="722" y="335" width="3" height="6" fill="#000000"/>
<rect x="723" y="336" width="1" height="4" fill="#fff"/>
<rect x="726" y="318" width="1" height="15" fill="#000000"/>
<rect x="725" y="324" width="3" height="7" fill="#000000"/>
<rect x="726" y="325" width="1" height="5" fill="#fff"/>
<rect x="729" y="314" width="1" height="26" fill="#000000"/>
<rect x="728" y="314" width="3" height="7" fill="#000000"/>
<rect x="729" y="315" width="1" height="5" fill="#fff"/>
<rect x="732" y="285" width="1" height="31" fill="#000000"/>
<rect x="731" y="289" width="3" height="23" fill="#000000"/>
<rect x="732" y="290" width="1" height="21" fill="#fff"/>
<rect x="735" y="249" width="1" height="31" fill="#000000"/>
<rect x="734" y="264" width="3" height="16" fill="#000000"/>
<rect x="735" y="265" width="1" height="14" fill="#fff"/>
<rect x="738" y="247" width="1" height="26" fill="#000000"/>
<rect x="737" y="249" width="3" height="19" fill="#000000"/>
<rect x="738" y="250" width="1" height="17" fill="#fff"/>
<rect x="741" y="249" width="1" height="28" fill="#d80a32"/>
<rect x="740" y="249" width="3" height="19" fill="#d80a32"/>
<rect x="744" y="258" width="1" height="27" fill="#d80a32"/>
<rect x="743" y="262" width="3" height="12" fill="#d80a32"/>
<rect x="747" y="267" width="1" height="22" fill="#000000"/>
<rect x="746" y="268" width="3" height="13" fill="#000000"/>
<rect x="747" y="269" width="1" height="11" fill="#fff"/>
<rect x="750" y="258" width="1" height="28" fill="#d80a32"/>
<rect x="749" y="261" width="3" height="16" fill="#d80a32"/>
<rect x="753" y="268" width="1" height="20" fill="#000000"/>
<rect x="752" y="268" width="3" height="6" fill="#000000"/>
<rect x="753" y="269" width="1" height="4" fill="#fff"/>
<rect x="756" y="243" width="1" height="19" fill="#000000"/>
<rect x="755" y="249" width="3" height="13" fill="#000000"/>
<rect x="756" y="250" width="1" height="11" fill="#fff"/>
<rect x="759" y="245" width="1" height="16" fill="#000000"/>
<rect x="758" y="248" width="3" height="1" fill="#000000"/>
<rect x="762" y="250" width="1" height="16" fill="#d80a32"/>
<rect x="761" y="251" width="3" height="7" fill="#d80a32"/>
<rect x="762" y="252" width="1" height="5" fill="#fff"/>
<rect x="765" y="251" width="1" height="12" fill="#d80a32"/>
<rect x="764" y="253" width="3" height="4" fill="#d80a32"/>
<rect x="768" y="268" width="1" height="23" fill="#d80a32"/>
<rect x="767" y="268" width="3" height="10" fill="#d80a32"/>
<rect x="771" y="255" width="1" height="29" fill="#000000"/>
<rect x="770" y="264" width="3" height="12" fill="#000000"/>
<rect x="771" y="265" width="1" height="10" fill="#fff"/>
<rect x="774" y="260" width="1" height="13" fill="#d80a32"/>
<rect x="773" y="262" width="3" height="5" fill="#d80a32"/>
<rect x="777" y="240" width="1" height="31" fill="#000000"/>
<rect x="776" y="247" width="3" height="22" fill="#000000"/>
<rect x="777" y="248" width="1" height="20" fill="#fff"/>
<rect x="780" y="228" width="1" height="14" fill="#000000"/>
<rect x="779" y="234" width="3" height="8" fill="#000000"/>
<rect x="780" y="235" width="1" height="6" fill="#fff"/>
<rect x="783" y="235" width="1" height="6" fill="#d80a32"/>
<rect x="782" y="235" width="3" height="6" fill="#d80a32"/>
<rect x="786" y="236" width="1" height="28" fill="#000000"/>
<rect x="785" y="238" width="3" height="8" fill="#000000"/>
<rect x="786" y="239" width="1" height="6" fill="#fff"/>
<rect x="789" y="223" width="1" height="10" fill="#000000"/>
<rect x="788" y="226" width="3" height="7" fill="#000000"/>
<rect x="789" y="227" width="1" height="5" fill="#fff"/>
<rect x="792" y="214" width="1" height="25" fill="#000000"/>
<rect x="791" y="216" width="3" height="13" fill="#000000"/>
<rect x="792" y="217" width="1" height="11" fill="#fff"/>
<rect x="795" y="213" width="1" height="19" fill="#000000"/>
<rect x="794" y="215" width="3" height="4" fill="#000000"/>
<rect x="795" y="216" width="1" height="2" fill="#fff"/>
<rect x="798" y="198" width="1" height="14" fill="#000000"/>
<rect x="797" y="202" width="3" height="4" fill="#000000"/>
<rect x="798" y="203" width="1" height="2" fill="#fff"/>
<rect x="801" y="187" width="1" height="19" fill="#000000"/>
<rect x="800" y="190" width="3" height="11" fill="#000000"/>
<rect x="801" y="191" width="1" height="9" fill="#fff"/>
<rect x="804" y="189" width="1" height="10" fill="#d80a32"/>
<rect x="803" y="192" width="3" height="1" fill="#d80a32"/>
<rect x="807" y="177" width="1" height="19" fill="#000000"/>
<rect x="806" y="178" width="3" height="14" fill="#000000"/>
<rect x="807" y="179" width="1" height="12" fill="#fff"/>
<rect x="810" y="168" width="1" height="16" fill="#000000"/>
<rect x="809" y="168" width="3" height="11" fill="#000000"/>
<rect x="810" y="169" width="1" height="9" fill="#fff"/>
<rect x="813" y="163" width="1" height="15" fill="#d80a32"/>
<rect x="812" y="169" width="3" height="2" fill="#d80a32"/>
<rect x="816" y="165" width="1" height="27" fill="#d80a32"/>
<rect x="815" y="169" width="3" height="21" fill="#d80a32"/>
<rect x="819" y="174" width="1" height="22" fill="#000000"/>
<rect x="818" y="174" width="3" height="12" fill="#000000"/>
<rect x="819" y="175" width="1" height="10" fill="#fff"/>
<rect x="822" y="155" width="1" height="18" fill="#000000"/>
<rect x="821" y="159" width="3" height="13" fill="#000000"/>
<rect x="822" y="160" width="1" height="11" fill="#fff"/>
<rect x="825" y="151" width="1" height="11" fill="#d80a32"/>
<rect x="824" y="159" width="3" height="2" fill="#d80a32"/>
<rect x="828" y="160" width="1" height="14" fill="#d80a32"/>
<rect x="827" y="162" width="3" height="4" fill="#d80a32"/>
<rect x="828" y="163" width="1" height="2" fill="#fff"/>
<rect x="831" y="162" width="1" height="27" fill="#d80a32"/>
<rect x="830" y="164" width="3" height="17" fill="#d80a32"/>
<rect x="834" y="143" width="1" height="35" fill="#000000"/>
<rect x="833" y="145" width="3" height="33" fill="#000000"/>
<rect x="834" y="146" width="1" height="31" fill="#fff"/>
<rect x="837" y="143" width="1" height="9" fill="#d80a32"/>
<rect x="836" y="146" width="3" height="4" fill="#d80a32"/>
<rect x="840" y="142" width="1" height="13" fill="#000000"/>
<rect x="839" y="142" width="3" height="4" fill="#000000"/>
<rect x="840" y="143" width="1" height="2" fill="#fff"/>
<rect x="843" y="116" width="1" height="22" fill="#000000"/>
<rect x="842" y="120" width="3" height="18" fill="#000000"/>
<rect x="843" y="121" width="1" height="16" fill="#fff"/>
<rect x="846" y="116" width="1" height="28" fill="#d80a32"/>
<rect x="845" y="119" width="3" height="17" fill="#d80a32"/>
<rect x="849" y="131" width="1" height="18" fill="#d80a32"/>
<rect x="848" y="134" width="3" height="4" fill="#d80a32"/>
<rect x="852" y="127" width="1" height="20" fill="#000000"/>
<rect x="851" y="136" width="3" height="3" fill="#000000"/>
<rect x="852" y="137" width="1" height="1" fill="#fff"/>
<rect x="855" y="106" width="1" height="30" fill="#000000"/>
<rect x="854" y="111" width="3" height="23" fill="#000000"/>
<rect x="855" y="112" width="1" height="21" fill="#fff"/>
<rect x="858" y="115" width="1" height="14" fill="#d80a32"/>
<rect x="857" y="115" width="3" height="9" fill="#d80a32"/>
<rect x="861" y="104" width="1" height="30" fill="#000000"/>
<rect x="860" y="109" width="3" height="18" fill="#000000"/>
<rect x="861" y="110" width="1" height="16" fill="#fff"/>
<rect x="864" y="109" width="1" height="23" fill="#d80a32"/>
<rect x="863" y="112" width="3" height="19" fill="#d80a32"/>
<rect x="867" y="136" width="1" height="24" fill="#d80a32"/>
<rect x="866" y="136" width="3" height="3" fill="#d80a32"/>
<rect x="867" y="137" width="1" height="1" fill="#fff"/>
<rect x="870" y="125" width="1" height="17" fill="#000000"/>
<rect x="869" y="132" width="3" height="1" fill="#000000"/>
<rect x="873" y="109" width="1" height="19" fill="#000000"/>
<rect x="872" y="110" width="3" height="18" fill="#000000"/>
<rect x="873" y="111" width="1" height="16" fill="#fff"/>
<rect x="876" y="106" width="1" height="23" fill="#d80a32"/>
<rect x="875" y="112" width="3" height="13" fill="#d80a32"/>
<rect x="879" y="101" width="1" height="34" fill="#000000"/>
<rect x="878" y="116" width="3" height="12" fill="#000000"/>
<rect x="879" y="117" width="1" height="10" fill="#fff"/>
<rect x="882" y="112" width="1" height="8" fill="#000000"/>
<rect x="881" y="116" width="3" height="1" fill="#000000"/>
<rect x="885" y="112" width="1" height="8" fill="#000000"/>
<rect x="884" y="116" width="3" height="1" fill="#000000"/>
<rect x="888" y="88" width="1" height="22" fill="#000000"/>
<rect x="887" y="92" width="3" height="18" fill="#000000"/>
<rect x="888" y="93" width="1" height="16" fill="#fff"/>
<rect x="891" y="90" width="1" height="18" fill="#d80a32"/>
<rect x="890" y="94" width="3" height="11" fill="#d80a32"/>
<rect x="894" y="87" width="1" height="14" fill="#000000"/>
<rect x="893" y="87" width="3" height="13" fill="#000000"/>
<rect x="894" y="88" width="1" height="11" fill="#fff"/>
<rect x="897" y="71" width="1" height="13" fill="#000000"/>
<rect x="896" y="71" width="3" height="13" fill="#000000"/>
<rect x="897" y="72" width="1" height="11" fill="#fff"/>
<rect x="900" y="62" width="1" height="14" fill="#000000"/>
<rect x="899" y="66" width="3" height="6" fill="#000000"/>
<rect x="900" y="67" width="1" height="4" fill="#fff"/>
<rect x="903" y="68" width="1" height="26" fill="#d80a32"/>
<rect x="902" y="70" width="3" height="16" fill="#d80a32"/>
<rect x="906" y="71" width="1" height="15" fill="#000000"/>
<rect x="905" y="78" width="3" height="6" fill="#000000"/>
<rect x="906" y="79" width="1" height="4" fill="#fff"/>
<rect x="909" y="78" width="1" height="23" fill="#d80a32"/>
<rect x="908" y="78" width="3" height="23" fill="#d80a32"/>
<rect x="912" y="97" width="1" height="40" fill="#d80a32"/>
<rect x="911" y="101" width="3" height="34" fill="#d80a32"/>
<rect x="915" y="115" width="1" height="15" fill="#000000"/>
<rect x="914" y="115" width="3" height="15" fill="#000000"/>
<rect x="915" y="116" width="1" height="13" fill="#fff"/>
<rect x="918" y="97" width="1" height="23" fill="#000000"/>
<rect x="917" y="111" width="3" height="4" fill="#000000"/>
<rect x="921" y="101" width="1" height="29" fill="#000000"/>
<rect x="920" y="112" width="3" height="1" fill="#000000"/>
<rect x="924" y="106" width="1" height="31" fill="#d80a32"/>
<rect x="923" y="111" width="3" height="13" fill="#d80a32"/>
<rect x="927" y="105" width="1" height="24" fill="#000000"/>
<rect x="926" y="116" width="3" height="5" fill="#000000"/>
<rect x="927" y="117" width="1" height="3" fill="#fff"/>
<rect x="930" y="86" width="1" height="49" fill="#000000"/>
<rect x="929" y="91" width="3" height="25" fill="#000000"/>
<rect x="930" y="92" width="1" height="23" fill="#fff"/>
<rect x="933" y="92" width="1" height="34" fill="#d80a32"/>
<rect x="932" y="94" width="3" height="23" fill="#d80a32"/>
<rect x="936" y="107" width="1" height="55" fill="#d80a32"/>
<rect x="935" y="114" width="3" height="46" fill="#d80a32"/>
<rect x="939" y="148" width="1" height="30" fill="#d80a32"/>
<rect x="938" y="160" width="3" height="4" fill="#d80a32"/>
<rect x="939" y="161" width="1" height="2" fill="#fff"/>
<rect x="942" y="160" width="1" height="1" fill="#000000"/>
<rect x="941" y="160" width="3" height="1" fill="#000000"/>
<rect x="945" y="143" width="1" height="32" fill="#000000"/>
<rect x="944" y="152" width="3" height="8" fill="#000000"/>
<rect x="945" y="153" width="1" height="6" fill="#fff"/>
<rect x="948" y="137" width="1" height="54" fill="#d80a32"/>
<rect x="947" y="154" width="3" height="37" fill="#d80a32"/>
<rect x="951" y="173" width="1" height="27" fill="#000000"/>
<rect x="950" y="186" width="3" height="5" fill="#000000"/>
<rect x="951" y="187" width="1" height="3" fill="#fff"/>
<rect x="954" y="181" width="1" height="38" fill="#d80a32"/>
<rect x="953" y="186" width="3" height="9" fill="#d80a32"/>
<rect x="954" y="187" width="1" height="7" fill="#fff"/>
<rect x="957" y="146" width="1" height="38" fill="#000000"/>
<rect x="956" y="146" width="3" height="34" fill="#000000"/>
<rect x="957" y="147" width="1" height="32" fill="#fff"/>
<rect x="960" y="151" width="1" height="14" fill="#d80a32"/>
<rect x="959" y="151" width="3" height="6" fill="#d80a32"/>
<rect x="963" y="163" width="1" height="29" fill="#d80a32"/>
<rect x="962" y="163" width="3" height="17" fill="#d80a32"/>
<rect x="966" y="160" width="1" height="34" fill="#d80a32"/>
<rect x="965" y="175" width="3" height="13" fill="#d80a32"/>
<rect x="969" y="162" width="1" height="44" fill="#000000"/>
<rect x="968" y="166" width="3" height="26" fill="#000000"/>
<rect x="969" y="167" width="1" height="24" fill="#fff"/>
<rect x="972" y="155" width="1" height="33" fill="#d80a32"/>
<rect x="971" y="163" width="3" height="17" fill="#d80a32"/>
<rect x="975" y="169" width="1" height="29" fill="#000000"/>
<rect x="974" y="172" width="3" height="7" fill="#000000"/>
<rect x="975" y="173" width="1" height="5" fill="#fff"/>
<rect x="978" y="136" width="1" height="26" fill="#000000"/>
<rect x="977" y="136" width="3" height="26" fill="#000000"/>
<rect x="978" y="137" width="1" height="24" fill="#fff"/>
<rect x="981" y="128" width="1" height="17" fill="#000000"/>
<rect x="980" y="130" width="3" height="8" fill="#000000"/>
<rect x="981" y="131" width="1" height="6" fill="#fff"/>
<rect x="984" y="129" width="1" height="12" fill="#000000"/>
<rect x="983" y="129" width="3" height="4" fill="#000000"/>
<rect x="984" y="130" width="1" height="2" fill="#fff"/>
<rect x="987" y="126" width="1" height="11" fill="#d80a32"/>
<rect x="986" y="130" width="3" height="3" fill="#d80a32"/>
<rect x="990" y="133" width="1" height="14" fill="#d80a32"/>
<rect x="989" y="133" width="3" height="10" fill="#d80a32"/>
<rect x="993" y="142" width="1" height="24" fill="#d80a32"/>
<rect x="992" y="142" width="3" height="17" fill="#d80a32"/>
<rect x="996" y="127" width="1" height="32" fill="#000000"/>
<rect x="995" y="131" width="3" height="23" fill="#000000"/>
<rect x="996" y="132" width="1" height="21" fill="#fff"/>
<rect x="999" y="135" width="1" height="22" fill="#d80a32"/>
<rect x="998" y="137" width="3" height="8" fill="#d80a32"/>
<rect x="1002" y="142" width="1" height="40" fill="#d80a32"/>
<rect x="1001" y="144" width="3" height="37" fill="#d80a32"/>
<rect x="1005" y="166" width="1" height="23" fill="#000000"/>
<rect x="1004" y="175" width="3" height="4" fill="#000000"/>
<rect x="1008" y="171" width="1" height="27" fill="#d80a32"/>
<rect x="1007" y="172" width="3" height="12" fill="#d80a32"/>
<rect x="1011" y="157" width="1" height="29" fill="#000000"/>
<rect x="1010" y="174" width="3" height="6" fill="#000000"/>
<rect x="1011" y="175" width="1" height="4" fill="#fff"/>
<rect x="1014" y="169" width="1" height="39" fill="#d80a32"/>
<rect x="1013" y="179" width="3" height="7" fill="#d80a32"/>
<rect x="1017" y="193" width="1" height="21" fill="#d80a32"/>
<rect x="1016" y="197" width="3" height="10" fill="#d80a32"/>
<rect x="1020" y="204" width="1" height="22" fill="#d80a32"/>
<rect x="1019" y="211" width="3" height="15" fill="#d80a32"/>
<rect x="1023" y="222" width="1" height="30" fill="#d80a32"/>
<rect x="1022" y="227" width="3" height="4" fill="#d80a32"/>
<rect x="1026" y="193" width="1" height="49" fill="#000000"/>
<rect x="1025" y="199" width="3" height="37" fill="#000000"/>
<rect x="1026" y="200" width="1" height="35" fill="#fff"/>
<rect x="1029" y="172" width="1" height="33" fill="#000000"/>
<rect x="1028" y="188" width="3" height="14" fill="#000000"/>
<rect x="1029" y="189" width="1" height="12" fill="#fff"/>
<rect x="1032" y="185" width="1" height="41" fill="#d80a32"/>
<rect x="1031" y="191" width="3" height="20" fill="#d80a32"/>
<rect x="1035" y="220" width="1" height="24" fill="#d80a32"/>
<rect x="1034" y="220" width="3" height="19" fill="#d80a32"/>
<rect x="1038" y="226" width="1" height="36" fill="#000000"/>
<rect x="1037" y="232" width="3" height="15" fill="#000000"/>
<rect x="1038" y="233" width="1" height="13" fill="#fff"/>
<rect x="1041" y="224" width="1" height="25" fill="#d80a32"/>
<rect x="1040" y="231" width="3" height="12" fill="#d80a32"/>
<rect x="1044" y="233" width="1" height="34" fill="#000000"/>
<rect x="1043" y="233" width="3" height="13" fill="#000000"/>
<rect x="1044" y="234" width="1" height="11" fill="#fff"/>
<rect x="1047" y="212" width="1" height="24" fill="#000000"/>
<rect x="1046" y="230" width="3" height="2" fill="#000000"/>
<rect x="1050" y="166" width="1" height="46" fill="#000000"/>
<rect x="1049" y="169" width="3" height="43" fill="#000000"/>
<rect x="1050" y="170" width="1" height="41" fill="#fff"/>
<rect x="1053" y="144" width="1" height="18" fill="#000000"/>
<rect x="1052" y="156" width="3" height="3" fill="#000000"/>
<rect x="1053" y="157" width="1" height="1" fill="#fff"/>
<rect x="1056" y="150" width="1" height="26" fill="#d80a32"/>
<rect x="1055" y="154" width="3" height="8" fill="#d80a32"/>
<rect x="1059" y="144" width="1" height="33" fill="#d80a32"/>
<rect x="1058" y="162" width="3" height="10" fill="#d80a32"/>
<rect x="1059" y="163" width="1" height="8" fill="#fff"/>
<rect x="1062" y="148" width="1" height="33" fill="#000000"/>
<rect x="1061" y="157" width="3" height="15" fill="#000000"/>
<rect x="1062" y="158" width="1" height="13" fill="#fff"/>
<rect x="1065" y="191" width="1" height="43" fill="#d80a32"/>
<rect x="1064" y="191" width="3" height="35" fill="#d80a32"/>
<rect x="1068" y="213" width="1" height="36" fill="#d80a32"/>
<rect x="1067" y="228" width="3" height="16" fill="#d80a32"/>
<rect x="1071" y="196" width="1" height="43" fill="#000000"/>
<rect x="1070" y="213" width="3" height="23" fill="#000000"/>
<rect x="1071" y="214" width="1" height="21" fill="#fff"/>
<rect x="1074" y="207" width="1" height="21" fill="#d80a32"/>
<rect x="1073" y="210" width="3" height="18" fill="#d80a32"/>
<rect x="1077" y="224" width="1" height="22" fill="#d80a32"/>
<rect x="1076" y="227" width="3" height="11" fill="#d80a32"/>
<rect x="1080" y="250" width="1" height="24" fill="#d80a32"/>
<rect x="1079" y="253" width="3" height="18" fill="#d80a32"/>
<rect x="1083" y="264" width="1" height="40" fill="#d80a32"/>
<rect x="1082" y="268" width="3" height="36" fill="#d80a32"/>
<rect x="1086" y="279" width="1" height="23" fill="#000000"/>
<rect x="1085" y="288" width="3" height="13" fill="#000000"/>
<rect x="1086" y="289" width="1" height="11" fill="#fff"/>
<rect x="1089" y="240" width="1" height="44" fill="#000000"/>
<rect x="1088" y="246" width="3" height="38" fill="#000000"/>
<rect x="1089" y="247" width="1" height="36" fill="#fff"/>
<rect x="1092" y="195" width="1" height="27" fill="#000000"/>
<rect x="1091" y="198" width="3" height="24" fill="#000000"/>
<rect x="1092" y="199" width="1" height="22" fill="#fff"/>
<rect x="1095" y="167" width="1" height="18" fill="#000000"/>
<rect x="1094" y="171" width="3" height="13" fill="#000000"/>
<rect x="1095" y="172" width="1" height="11" fill="#fff"/>
<rect x="1098" y="164" width="1" height="16" fill="#000000"/>
<rect x="1097" y="164" width="3" height="8" fill="#000000"/>
<rect x="1098" y="165" width="1" height="6" fill="#fff"/>
<rect x="1101" y="154" width="1" height="14" fill="#000000"/>
<rect x="1100" y="156" width="3" height="9" fill="#000000"/>
<rect x="1101" y="157" width="1" height="7" fill="#fff"/>
<rect x="1104" y="124" width="1" height="26" fill="#000000"/>
<rect x="1103" y="133" width="3" height="17" fill="#000000"/>
<rect x="1104" y="134" width="1" height="15" fill="#fff"/>
<rect x="1107" y="128" width="1" height="12" fill="#d80a32"/>
<rect x="1106" y="130" width="3" height="7" fill="#d80a32"/>
<rect x="1110" y="116" width="1" height="20" fill="#000000"/>
<rect x="1109" y="129" width="3" height="7" fill="#000000"/>
<rect x="1110" y="130" width="1" height="5" fill="#fff"/>
<rect x="1113" y="124" width="1" height="26" fill="#d80a32"/>
<rect x="1112" y="127" width="3" height="20" fill="#d80a32"/>
<rect x="1116" y="145" width="1" height="12" fill="#d80a32"/>
<rect x="1115" y="151" width="3" height="3" fill="#d80a32"/>
<rect x="1116" y="152" width="1" height="1" fill="#fff"/>
<rect x="1119" y="139" width="1" height="20" fill="#d80a32"/>
<rect x="1118" y="141" width="3" height="12" fill="#d80a32"/>
<rect x="1122" y="143" width="1" height="26" fill="#d80a32"/>
<rect x="1121" y="154" width="3" height="14" fill="#d80a32"/>
<rect x="1125" y="172" width="1" height="34" fill="#d80a32"/>
<rect x="1124" y="172" width="3" height="34" fill="#d80a32"/>
<rect x="1128" y="181" width="1" height="21" fill="#000000"/>
<rect x="1127" y="188" width="3" height="10" fill="#000000"/>
<rect x="1128" y="189" width="1" height="8" fill="#fff"/>
<rect x="1131" y="174" width="1" height="18" fill="#000000"/>
<rect x="1130" y="178" width="3" height="4" fill="#000000"/>
<rect x="1131" y="179" width="1" height="2" fill="#fff"/>
<rect x="1134" y="167" width="1" height="21" fill="#000000"/>
<rect x="1133" y="169" width="3" height="6" fill="#000000"/>
<rect x="1137" y="166" width="1" height="20" fill="#000000"/>
<rect x="1136" y="166" width="3" height="6" fill="#000000"/>
<rect x="1137" y="167" width="1" height="4" fill="#fff"/>
<rect x="1140" y="149" width="1" height="24" fill="#000000"/>
<rect x="1139" y="151" width="3" height="17" fill="#000000"/>
<rect x="1140" y="152" width="1" height="15" fill="#fff"/>
<rect x="1143" y="153" width="1" height="14" fill="#d80a32"/>
<rect x="1142" y="153" width="3" height="6" fill="#d80a32"/>
<rect x="1146" y="131" width="1" height="25" fill="#000000"/>
<rect x="1145" y="133" width="3" height="23" fill="#000000"/>
<rect x="1146" y="134" width="1" height="21" fill="#fff"/>
<rect x="1149" y="129" width="1" height="11" fill="#d80a32"/>
<rect x="1148" y="136" width="3" height="2" fill="#d80a32"/>
<rect x="1152" y="139" width="1" height="13" fill="#d80a32"/>
<rect x="1151" y="139" width="3" height="12" fill="#d80a32"/>
<rect x="1155" y="132" width="1" height="26" fill="#000000"/>
<rect x="1154" y="134" width="3" height="11" fill="#000000"/>
<rect x="1155" y="135" width="1" height="9" fill="#fff"/>
<rect x="1158" y="137" width="1" height="30" fill="#d80a32"/>
<rect x="1157" y="137" width="3" height="28" fill="#d80a32"/>
<rect x="1161" y="176" width="1" height="48" fill="#d80a32"/>
<rect x="1160" y="176" width="3" height="43" fill="#d80a32"/>
<rect x="1164" y="187" width="1" height="20" fill="#000000"/>
<rect x="1163" y="202" width="3" height="3" fill="#000000"/>
<rect x="1167" y="194" width="1" height="28" fill="#d80a32"/>
<rect x="1166" y="204" width="3" height="12" fill="#d80a32"/>
<rect x="1170" y="195" width="1" height="35" fill="#000000"/>
<rect x="1169" y="207" width="3" height="5" fill="#000000"/>
<rect x="1173" y="206" width="1" height="15" fill="#d80a32"/>
<rect x="1172" y="213" width="3" height="1" fill="#d80a32"/>
<rect x="1176" y="220" width="1" height="22" fill="#d80a32"/>
<rect x="1175" y="222" width="3" height="20" fill="#d80a32"/>
<rect x="1179" y="244" width="1" height="35" fill="#d80a32"/>
<rect x="1178" y="247" width="3" height="30" fill="#d80a32"/>
<rect x="1182" y="276" width="1" height="47" fill="#d80a32"/>
<rect x="1181" y="291" width="3" height="32" fill="#d80a32"/>
<rect x="1185" y="349" width="1" height="95" fill="#d80a32"/>
<rect x="1184" y="354" width="3" height="46" fill="#d80a32"/>
<rect x="1188" y="327" width="1" height="59" fill="#000000"/>
<rect x="1187" y="335" width="3" height="51" fill="#000000"/>
<rect x="1188" y="336" width="1" height="49" fill="#fff"/>
<rect x="1191" y="333" width="1" height="45" fill="#d80a32"/>
<rect x="1190" y="349" width="3" height="7" fill="#d80a32"/>
<rect x="1194" y="299" width="1" height="35" fill="#000000"/>
<rect x="1193" y="308" width="3" height="26" fill="#000000"/>
<rect x="1194" y="309" width="1" height="24" fill="#fff"/>
<rect x="1197" y="305" width="1" height="16" fill="#000000"/>
<rect x="1196" y="305" width="3" height="2" fill="#000000"/>
</g>
<path d="M24.0,405.5 C26.0,404.4 32.5,400.9 36.0,399.0 C39.5,397.1 42.0,395.2 45.0,394.0 C48.0,392.8 50.5,391.9 54.0,391.5 C57.5,391.1 62.5,391.2 66.0,391.5 C69.5,391.8 72.7,392.6 75.0,393.0 C77.3,393.4 74.2,393.8 80.0,394.0 C85.8,394.2 104.5,394.5 110.0,394.5 C115.5,394.5 111.5,394.7 113.0,394.0 C114.5,393.3 115.8,392.0 119.0,390.5 C122.2,389.0 128.5,386.5 132.0,385.0 C135.5,383.5 133.9,383.6 140.0,381.5 C146.1,379.4 161.8,374.2 168.5,372.5 C175.2,370.8 174.8,372.0 180.0,371.2 C185.2,370.4 194.2,368.5 200.0,367.5 C205.8,366.5 210.3,366.8 215.0,365.0 C219.7,363.2 223.8,359.5 228.0,357.0 C232.2,354.5 236.0,351.9 240.0,350.0 C244.0,348.1 247.8,346.9 252.0,345.5 C256.2,344.1 260.7,342.8 265.0,341.5 C269.3,340.2 274.3,339.2 278.0,338.0 C281.7,336.8 283.8,335.2 287.0,334.0 C290.2,332.8 293.8,331.9 297.0,331.0 C300.2,330.1 302.3,329.0 306.0,328.6 C309.7,328.2 316.5,328.5 319.0,328.6 C321.5,328.8 320.0,329.5 321.0,329.5 C322.0,329.5 322.8,328.7 325.0,328.5 C327.2,328.3 330.7,328.2 334.0,328.5 C337.3,328.8 342.5,329.8 345.0,330.0 C347.5,330.2 347.2,329.6 349.0,329.5 C350.8,329.4 354.0,329.5 356.0,329.5 C358.0,329.5 359.0,329.4 361.0,329.7 C363.0,330.0 365.7,330.5 368.0,331.5 C370.3,332.5 372.3,334.0 375.0,335.6 C377.7,337.2 380.8,339.2 384.0,341.2 C387.2,343.2 390.3,345.2 394.0,347.5 C397.7,349.8 402.7,353.0 406.0,355.0 C409.3,357.0 411.7,358.3 414.0,359.3 C416.3,360.3 417.2,360.2 420.0,361.2 C422.8,362.1 428.7,364.3 431.0,365.0 C433.3,365.7 432.3,365.6 434.0,365.6 C435.7,365.7 439.2,365.5 441.0,365.3 C442.8,365.1 443.0,364.6 445.0,364.5 C447.0,364.4 450.0,364.7 453.0,364.7 C456.0,364.7 459.3,365.1 463.0,364.5 C466.7,363.9 471.0,361.8 475.0,361.0 C479.0,360.2 483.7,359.8 487.0,359.5 C490.3,359.2 492.0,359.0 495.0,359.3 C498.0,359.6 500.8,360.3 505.0,361.2 C509.2,362.1 516.3,363.4 520.0,364.5 C523.7,365.6 524.2,366.6 527.0,367.5 C529.8,368.4 533.8,369.4 537.0,370.0 C540.2,370.6 542.5,370.4 546.0,371.0 C549.5,371.6 555.3,373.4 558.0,373.7 C560.7,374.0 560.5,372.5 562.0,372.7 C563.5,372.9 564.8,373.9 567.0,374.7 C569.2,375.5 572.5,376.9 575.0,377.5 C577.5,378.1 579.5,377.5 582.0,378.5 C584.5,379.5 587.5,382.4 590.0,383.7 C592.5,385.0 594.8,385.6 597.0,386.5 C599.2,387.4 600.0,388.8 603.0,389.3 C606.0,389.8 612.2,389.1 615.0,389.3 C617.8,389.5 616.8,390.4 620.0,390.6 C623.2,390.8 630.7,390.8 634.0,390.6 C637.3,390.5 638.0,389.7 640.0,389.7 C642.0,389.7 643.5,390.3 646.0,390.6 C648.5,390.9 652.3,391.4 655.0,391.5 C657.7,391.6 659.5,392.0 662.0,391.5 C664.5,391.0 667.3,390.1 670.0,388.7 C672.7,387.3 675.7,384.7 678.0,383.0 C680.3,381.3 682.0,380.1 684.0,378.7 C686.0,377.3 688.5,375.3 690.0,374.7 C691.5,374.1 691.3,375.2 693.0,375.2 C694.7,375.2 696.7,375.0 700.0,374.7 C703.3,374.4 709.7,374.1 713.0,373.5 C716.3,372.9 717.5,372.0 720.0,371.0 C722.5,370.0 725.5,368.9 728.0,367.5 C730.5,366.1 732.5,364.5 735.0,362.5 C737.5,360.5 740.0,357.9 743.0,355.5 C746.0,353.1 749.8,350.3 753.0,348.0 C756.2,345.7 758.5,343.2 762.0,341.5 C765.5,339.8 770.5,339.2 774.0,337.5 C777.5,335.8 780.5,333.0 783.0,331.5 C785.5,330.0 786.5,330.4 789.0,328.5 C791.5,326.6 795.3,323.2 798.0,320.0 C800.7,316.8 802.5,313.1 805.0,309.4 C807.5,305.6 810.5,300.6 813.0,297.5 C815.5,294.4 817.3,294.1 820.0,291.0 C822.7,287.9 826.3,282.3 829.0,279.0 C831.7,275.7 834.0,274.1 836.0,271.2 C838.0,268.3 839.3,264.7 841.0,261.8 C842.7,258.9 844.2,257.3 846.0,253.7 C847.8,250.1 850.5,243.2 852.0,240.0 C853.5,236.8 852.8,238.3 855.0,234.3 C857.2,230.3 862.2,220.9 865.0,216.2 C867.8,211.5 869.7,209.5 872.0,206.2 C874.3,202.9 876.3,199.3 879.0,196.2 C881.7,193.1 885.3,190.4 888.0,187.5 C890.7,184.6 893.3,180.7 895.0,178.7 C896.7,176.7 896.3,177.7 898.0,175.4 C899.7,173.1 903.0,167.6 905.0,165.0 C907.0,162.4 908.2,161.6 910.0,160.0 C911.8,158.4 913.5,158.0 916.0,155.7 C918.5,153.4 922.2,149.1 925.0,146.3 C927.8,143.5 930.5,140.9 933.0,139.0 C935.5,137.1 937.8,136.0 940.0,135.0 C942.2,134.0 943.5,133.6 946.0,133.2 C948.5,132.8 950.2,132.6 955.0,132.5 C959.8,132.4 970.0,132.8 975.0,132.5 C980.0,132.2 981.3,131.1 985.0,131.0 C988.7,130.9 992.8,131.1 997.0,131.8 C1001.2,132.5 1005.8,133.4 1010.0,135.0 C1014.2,136.6 1018.5,139.3 1022.0,141.2 C1025.5,143.1 1027.8,143.9 1031.0,146.2 C1034.2,148.5 1037.8,152.3 1041.0,155.0 C1044.2,157.7 1046.8,160.3 1050.0,162.4 C1053.2,164.5 1057.3,166.0 1060.0,167.4 C1062.7,168.8 1063.2,168.7 1066.0,170.6 C1068.8,172.5 1074.0,175.9 1077.0,178.7 C1080.0,181.5 1081.7,185.3 1084.0,187.5 C1086.3,189.7 1088.8,191.2 1091.0,192.0 C1093.2,192.8 1094.8,192.7 1097.0,192.5 C1099.2,192.3 1100.8,191.2 1104.0,190.6 C1107.2,190.0 1113.0,189.2 1116.0,188.7 C1119.0,188.2 1119.8,187.3 1122.0,187.5 C1124.2,187.7 1126.8,189.2 1129.0,190.0 C1131.2,190.8 1131.8,191.8 1135.0,192.2 C1138.2,192.6 1144.5,192.8 1148.0,192.5 C1151.5,192.2 1153.3,190.7 1156.0,190.5 C1158.7,190.3 1160.7,191.3 1164.0,191.5 C1167.3,191.7 1173.2,190.9 1176.0,191.5 C1178.8,192.1 1179.3,193.7 1181.0,195.0 C1182.7,196.3 1184.2,197.9 1186.0,199.3 C1187.8,200.8 1190.2,202.5 1192.0,203.7 C1193.8,204.8 1196.2,205.8 1197.0,206.2" fill="none" stroke="#000080" stroke-width="1.15" stroke-linejoin="round" stroke-linecap="round"/>
<path d="M24.0,476.6 C27.5,475.7 38.2,472.8 45.0,471.2 C51.8,469.6 58.0,468.6 65.0,467.0 C72.0,465.4 79.8,463.7 87.0,461.6 C94.2,459.5 101.7,457.0 108.0,454.5 C114.3,452.0 119.5,448.8 125.0,446.5 C130.5,444.2 136.0,443.0 141.0,441.0 C146.0,439.0 150.5,436.6 155.0,434.5 C159.5,432.4 163.8,429.9 168.0,428.5 C172.2,427.1 174.8,427.4 180.0,426.0 C185.2,424.6 194.0,421.5 199.0,420.0 C204.0,418.5 204.5,418.4 210.0,416.8 C215.5,415.2 226.5,411.9 232.0,410.3 C237.5,408.7 239.3,408.5 243.0,407.2 C246.7,405.9 250.8,403.8 254.0,402.5 C257.2,401.2 259.3,400.7 262.0,399.5 C264.7,398.3 266.5,396.9 270.0,395.5 C273.5,394.1 278.7,392.2 283.0,391.0 C287.3,389.8 293.2,388.6 296.0,388.0 C298.8,387.4 297.3,388.0 300.0,387.4 C302.7,386.8 307.8,385.3 312.0,384.3 C316.2,383.3 319.7,382.2 325.0,381.2 C330.3,380.1 339.8,378.7 344.0,378.0 C348.2,377.3 347.0,377.3 350.0,377.0 C353.0,376.7 358.8,376.2 362.0,376.0 C365.2,375.8 361.7,375.7 369.0,375.6 C376.3,375.5 398.8,375.7 406.0,375.6 C413.2,375.5 408.8,375.4 412.0,375.0 C415.2,374.6 420.8,373.5 425.0,373.0 C429.2,372.5 433.8,372.4 437.0,372.0 C440.2,371.6 441.8,370.8 444.0,370.5 C446.2,370.2 446.8,370.4 450.0,370.0 C453.2,369.6 458.8,368.7 463.0,368.0 C467.2,367.3 470.5,366.6 475.0,365.8 C479.5,365.1 486.3,364.2 490.0,363.5 C493.7,362.8 493.8,362.1 497.0,361.8 C500.2,361.6 505.2,361.8 509.0,362.0 C512.8,362.2 516.5,362.6 520.0,363.0 C523.5,363.4 526.7,364.0 530.0,364.4 C533.3,364.8 536.3,365.2 540.0,365.6 C543.7,366.0 547.8,366.5 552.0,366.8 C556.2,367.1 560.8,367.5 565.0,367.5 C569.2,367.5 572.8,367.1 577.0,366.8 C581.2,366.5 585.8,366.0 590.0,365.6 C594.2,365.2 597.8,364.9 602.0,364.7 C606.2,364.5 610.8,364.7 615.0,364.4 C619.2,364.1 622.8,363.5 627.0,363.1 C631.2,362.7 635.8,362.2 640.0,362.0 C644.2,361.8 647.8,361.8 652.0,361.8 C656.2,361.8 660.8,362.1 665.0,362.0 C669.2,361.9 674.0,361.5 677.0,361.2 C680.0,360.9 680.8,360.1 683.0,360.0 C685.2,359.9 686.8,360.4 690.0,360.6 C693.2,360.8 697.8,361.2 702.0,361.4 C706.2,361.6 710.8,362.0 715.0,362.0 C719.2,362.0 722.8,361.6 727.0,361.2 C731.2,360.8 735.0,360.0 740.0,359.3 C745.0,358.6 752.0,357.8 757.0,357.2 C762.0,356.6 765.8,356.3 770.0,355.6 C774.2,354.9 778.0,353.6 782.0,352.8 C786.0,352.0 789.8,351.9 794.0,351.0 C798.2,350.1 802.7,348.6 807.0,347.4 C811.3,346.2 815.8,344.8 820.0,343.7 C824.2,342.6 828.3,341.7 832.4,340.6 C836.5,339.6 840.6,338.7 844.8,337.4 C848.9,336.1 854.8,333.9 857.3,333.0 C859.8,332.1 856.4,332.8 860.0,331.7 C863.6,330.6 873.2,327.9 879.0,326.1 C884.8,324.3 889.3,322.9 895.0,321.0 C900.7,319.1 907.2,316.9 913.0,314.7 C918.8,312.5 924.2,309.9 930.0,307.7 C935.8,305.5 942.2,303.4 948.0,301.5 C953.8,299.6 960.5,297.7 965.0,296.2 C969.5,294.7 972.0,294.0 975.0,292.7 C978.0,291.4 980.2,289.9 983.0,288.3 C985.8,286.7 988.5,284.8 992.0,283.0 C995.5,281.2 999.7,279.4 1004.0,277.8 C1008.3,276.2 1014.5,274.4 1018.0,273.5 C1021.5,272.6 1021.8,273.0 1025.0,272.4 C1028.2,271.8 1032.8,270.9 1037.0,270.0 C1041.2,269.1 1045.8,267.9 1050.0,266.8 C1054.2,265.8 1057.8,264.5 1062.0,263.7 C1066.2,262.9 1070.7,262.5 1075.0,262.0 C1079.3,261.5 1083.8,261.4 1088.0,260.6 C1092.2,259.9 1096.0,258.9 1100.0,257.5 C1104.0,256.1 1107.8,254.2 1112.0,252.5 C1116.2,250.8 1120.8,249.4 1125.0,247.5 C1129.2,245.6 1132.8,243.3 1137.0,241.2 C1141.2,239.1 1146.8,236.6 1150.0,235.0 C1153.2,233.4 1154.3,232.5 1156.0,231.8 C1157.7,231.1 1158.2,231.3 1160.0,230.6 C1161.8,229.9 1165.0,228.4 1167.0,227.8 C1169.0,227.2 1170.0,227.3 1172.0,226.8 C1174.0,226.3 1176.8,225.2 1179.0,224.8 C1181.2,224.4 1183.0,224.5 1185.0,224.2 C1187.0,223.9 1189.0,223.4 1191.0,223.2 C1193.0,222.9 1196.0,222.8 1197.0,222.7" fill="none" stroke="#d80a32" stroke-width="2.3" stroke-linejoin="round" stroke-linecap="round"/>
<path d="M17.5,344.5 h36 v10 H41.0 L36.5,359.5 L32.0,354.5 H17.5 Z" fill="#fff" stroke="#cccccc" stroke-width="1"/>
<text x="19.0" y="353.0" font-size="9.8" text-rendering="geometricPrecision" stroke="#000" stroke-width="0.15" textLength="32.2" lengthAdjust="spacingAndGlyphs">3162.95</text>
<path d="M98.5,310.5 h36 v10 H122.0 L117.5,325.5 L113.0,320.5 H98.5 Z" fill="#fff" stroke="#cccccc" stroke-width="1"/>
<text x="100.0" y="319.0" font-size="9.8" text-rendering="geometricPrecision" stroke="#000" stroke-width="0.15" textLength="32.2" lengthAdjust="spacingAndGlyphs">3239.14</text>
<path d="M116.5,401.5 H131.0 L135.5,396.5 L140.0,401.5 H152.5 v10 H116.5 Z" fill="#fff" stroke="#cccccc" stroke-width="1"/>
<text x="118.0" y="410.0" font-size="9.8" text-rendering="geometricPrecision" stroke="#000" stroke-width="0.15" textLength="32.2" lengthAdjust="spacingAndGlyphs">3083.43</text>
<path d="M53.5,450.5 H68.0 L72.5,445.5 L77.0,450.5 H89.5 v10 H53.5 Z" fill="#fff" stroke="#cccccc" stroke-width="1"/>
<text x="55.0" y="459.0" font-size="9.8" text-rendering="geometricPrecision" stroke="#000" stroke-width="0.15" textLength="32.2" lengthAdjust="spacingAndGlyphs">2971.47</text>
<path d="M254.5,272.5 h36 v10 H278.0 L273.5,287.5 L269.0,282.5 H254.5 Z" fill="#fff" stroke="#cccccc" stroke-width="1"/>
<text x="256.0" y="281.0" font-size="9.8" text-rendering="geometricPrecision" stroke="#000" stroke-width="0.15" textLength="32.2" lengthAdjust="spacingAndGlyphs">3325.50</text>
<path d="M362.5,448.5 H377.0 L381.5,443.5 L386.0,448.5 H398.5 v10 H362.5 Z" fill="#fff" stroke="#cccccc" stroke-width="1"/>
<text x="364.0" y="457.0" font-size="9.8" text-rendering="geometricPrecision" stroke="#000" stroke-width="0.15" textLength="32.2" lengthAdjust="spacingAndGlyphs">2977.52</text>
<path d="M452.5,283.5 h36 v10 H476.0 L471.5,298.5 L467.0,293.5 H452.5 Z" fill="#fff" stroke="#cccccc" stroke-width="1"/>
<text x="454.0" y="292.0" font-size="9.8" text-rendering="geometricPrecision" stroke="#000" stroke-width="0.15" textLength="32.2" lengthAdjust="spacingAndGlyphs">3301.15</text>
<path d="M509.5,530.5 H524.0 L528.5,525.5 L533.0,530.5 H545.5 v10 H509.5 Z" fill="#fff" stroke="#cccccc" stroke-width="1"/>
<text x="511.0" y="539.0" font-size="9.8" text-rendering="geometricPrecision" stroke="#000" stroke-width="0.15" textLength="32.2" lengthAdjust="spacingAndGlyphs">2789.63</text>
<path d="M617.5,292.5 h36 v10 H641.0 L636.5,307.5 L632.0,302.5 H617.5 Z" fill="#fff" stroke="#cccccc" stroke-width="1"/>
<text x="619.0" y="301.0" font-size="9.8" text-rendering="geometricPrecision" stroke="#000" stroke-width="0.15" textLength="32.2" lengthAdjust="spacingAndGlyphs">3278.97</text>
<path d="M638.5,472.5 H653.0 L657.5,467.5 L662.0,472.5 H674.5 v10 H638.5 Z" fill="#fff" stroke="#cccccc" stroke-width="1"/>
<text x="640.0" y="481.0" font-size="9.8" text-rendering="geometricPrecision" stroke="#000" stroke-width="0.15" textLength="32.2" lengthAdjust="spacingAndGlyphs">2921.73</text>
<path d="M653.5,331.5 h36 v10 H677.0 L672.5,346.5 L668.0,341.5 H653.5 Z" fill="#fff" stroke="#cccccc" stroke-width="1"/>
<text x="655.0" y="340.0" font-size="9.8" text-rendering="geometricPrecision" stroke="#000" stroke-width="0.15" textLength="32.2" lengthAdjust="spacingAndGlyphs">3192.47</text>
<path d="M677.5,438.5 H692.0 L696.5,433.5 L701.0,438.5 H713.5 v10 H677.5 Z" fill="#fff" stroke="#cccccc" stroke-width="1"/>
<text x="679.0" y="447.0" font-size="9.8" text-rendering="geometricPrecision" stroke="#000" stroke-width="0.15" textLength="32.2" lengthAdjust="spacingAndGlyphs">2998.53</text>
<path d="M881.5,46.5 h36 v10 H905.0 L900.5,61.5 L896.0,56.5 H881.5 Z" fill="#fff" stroke="#cccccc" stroke-width="1"/>
<text x="883.0" y="55.0" font-size="9.8" text-rendering="geometricPrecision" stroke="#000" stroke-width="0.15" textLength="32.2" lengthAdjust="spacingAndGlyphs">3836.28</text>
<path d="M935.5,224.5 H950.0 L954.5,219.5 L959.0,224.5 H971.5 v10 H935.5 Z" fill="#fff" stroke="#cccccc" stroke-width="1"/>
<text x="937.0" y="233.0" font-size="9.8" text-rendering="geometricPrecision" stroke="#000" stroke-width="0.15" textLength="32.2" lengthAdjust="spacingAndGlyphs">3484.07</text>
<path d="M968.5,110.5 h36 v10 H992.0 L987.5,125.5 L983.0,120.5 H968.5 Z" fill="#fff" stroke="#cccccc" stroke-width="1"/>
<text x="970.0" y="119.0" font-size="9.8" text-rendering="geometricPrecision" stroke="#000" stroke-width="0.15" textLength="32.2" lengthAdjust="spacingAndGlyphs">3691.42</text>
<path d="M1025.5,272.5 H1040.0 L1044.5,267.5 L1049.0,272.5 H1061.5 v10 H1025.5 Z" fill="#fff" stroke="#cccccc" stroke-width="1"/>
<text x="1027.0" y="281.0" font-size="9.8" text-rendering="geometricPrecision" stroke="#000" stroke-width="0.15" textLength="32.2" lengthAdjust="spacingAndGlyphs">3374.18</text>
<path d="M1034.5,128.5 h36 v10 H1058.0 L1053.5,143.5 L1049.0,138.5 H1034.5 Z" fill="#fff" stroke="#cccccc" stroke-width="1"/>
<text x="1036.0" y="137.0" font-size="9.8" text-rendering="geometricPrecision" stroke="#000" stroke-width="0.15" textLength="32.2" lengthAdjust="spacingAndGlyphs">3651.31</text>
<path d="M1064.5,309.5 H1079.0 L1083.5,304.5 L1088.0,309.5 H1100.5 v10 H1064.5 Z" fill="#fff" stroke="#cccccc" stroke-width="1"/>
<text x="1066.0" y="318.0" font-size="9.8" text-rendering="geometricPrecision" stroke="#000" stroke-width="0.15" textLength="32.2" lengthAdjust="spacingAndGlyphs">3291.30</text>
<path d="M1091.5,100.5 h36 v10 H1115.0 L1110.5,115.5 L1106.0,110.5 H1091.5 Z" fill="#fff" stroke="#cccccc" stroke-width="1"/>
<text x="1093.0" y="109.0" font-size="9.8" text-rendering="geometricPrecision" stroke="#000" stroke-width="0.15" textLength="32.2" lengthAdjust="spacingAndGlyphs">3714.26</text>
<path d="M1106.5,211.5 H1121.0 L1125.5,206.5 L1130.0,211.5 H1142.5 v10 H1106.5 Z" fill="#fff" stroke="#cccccc" stroke-width="1"/>
<text x="1108.0" y="220.0" font-size="9.8" text-rendering="geometricPrecision" stroke="#000" stroke-width="0.15" textLength="32.2" lengthAdjust="spacingAndGlyphs">3513.10</text>
<path d="M1130.5,113.5 h36 v10 H1154.0 L1149.5,128.5 L1145.0,123.5 H1130.5 Z" fill="#fff" stroke="#cccccc" stroke-width="1"/>
<text x="1132.0" y="122.0" font-size="9.8" text-rendering="geometricPrecision" stroke="#000" stroke-width="0.15" textLength="32.2" lengthAdjust="spacingAndGlyphs">3686.57</text>
<path d="M1166.5,449.5 H1181.0 L1185.5,444.5 L1190.0,449.5 H1202.5 v10 H1166.5 Z" fill="#fff" stroke="#cccccc" stroke-width="1"/>
<text x="1168.0" y="458.0" font-size="9.8" text-rendering="geometricPrecision" stroke="#000" stroke-width="0.15" textLength="32.2" lengthAdjust="spacingAndGlyphs">2973.16</text>
<text class="dj" x="1207" y="524" font-size="9" textLength="23.2" lengthAdjust="spacingAndGlyphs">2800</text>
<text class="dj" x="1207" y="502" font-size="9" textLength="23.2" lengthAdjust="spacingAndGlyphs">2850</text>
<text class="dj" x="1207" y="480" font-size="9" textLength="23.2" lengthAdjust="spacingAndGlyphs">2900</text>
<text class="dj" x="1207" y="458" font-size="9" textLength="23.2" lengthAdjust="spacingAndGlyphs">2950</text>
<text class="dj" x="1207" y="436" font-size="9" textLength="23.2" lengthAdjust="spacingAndGlyphs">3000</text>
<text class="dj" x="1207" y="414" font-size="9" textLength="23.2" lengthAdjust="spacingAndGlyphs">3050</text>
<text class="dj" x="1207" y="392" font-size="9" textLength="23.2" lengthAdjust="spacingAndGlyphs">3100</text>
<text class="dj" x="1207" y="369" font-size="9" textLength="23.2" lengthAdjust="spacingAndGlyphs">3150</text>
<text class="dj" x="1207" y="347" font-size="9" textLength="23.2" lengthAdjust="spacingAndGlyphs">3200</text>
<text class="dj" x="1207" y="325" font-size="9" textLength="23.2" lengthAdjust="spacingAndGlyphs">3250</text>
<text class="dj" x="1207" y="303" font-size="9" textLength="23.2" lengthAdjust="spacingAndGlyphs">3300</text>
<text class="dj" x="1207" y="281" font-size="9" textLength="23.2" lengthAdjust="spacingAndGlyphs">3350</text>
<text class="dj" x="1207" y="259" font-size="9" textLength="23.2" lengthAdjust="spacingAndGlyphs">3400</text>
<text class="dj" x="1207" y="237" font-size="9" textLength="23.2" lengthAdjust="spacingAndGlyphs">3450</text>
<text class="dj" x="1207" y="215" font-size="9" textLength="23.2" lengthAdjust="spacingAndGlyphs">3500</text>
<text class="dj" x="1207" y="193" font-size="9" textLength="23.2" lengthAdjust="spacingAndGlyphs">3550</text>
<text class="dj" x="1207" y="171" font-size="9" textLength="23.2" lengthAdjust="spacingAndGlyphs">3600</text>
<text class="dj" x="1207" y="149" font-size="9" textLength="23.2" lengthAdjust="spacingAndGlyphs">3650</text>
<text class="dj" x="1207" y="127" font-size="9" textLength="23.2" lengthAdjust="spacingAndGlyphs">3700</text>
<text class="dj" x="1207" y="105" font-size="9" textLength="23.2" lengthAdjust="spacingAndGlyphs">3750</text>
<text class="dj" x="1207" y="83" font-size="9" textLength="23.2" lengthAdjust="spacingAndGlyphs">3800</text>
<text class="dj" x="1207" y="60" font-size="9" textLength="23.2" lengthAdjust="spacingAndGlyphs">3850</text>
<text class="dj" x="35.9" y="555" font-size="9.3" textLength="19.1" lengthAdjust="spacingAndGlyphs">Mar</text>
<text class="dj" x="99.7" y="555" font-size="9.3" textLength="17.5" lengthAdjust="spacingAndGlyphs">Apr</text>
<text class="dj" x="158.2" y="555" font-size="9.3" textLength="20.4" lengthAdjust="spacingAndGlyphs">May</text>
<text class="dj" x="225.4" y="555" font-size="9.3" textLength="18.0" lengthAdjust="spacingAndGlyphs">Jun</text>
<text class="dj" x="290.4" y="555" font-size="9.3" textLength="14.0" lengthAdjust="spacingAndGlyphs">Jul</text>
<text class="dj" x="356.4" y="555" font-size="9.3" textLength="20.0" lengthAdjust="spacingAndGlyphs">Aug</text>
<text class="dj" x="419.9" y="555" font-size="9.3" textLength="19.0" lengthAdjust="spacingAndGlyphs">Sep</text>
<text class="dj" x="486.4" y="555" font-size="9.3" textLength="18.0" lengthAdjust="spacingAndGlyphs">Oct</text>
<text class="dj" x="555.0" y="555" font-size="9.3" textLength="19.0" lengthAdjust="spacingAndGlyphs">Nov</text>
<text class="dj" x="615.0" y="555" font-size="9.3" textLength="19.0" lengthAdjust="spacingAndGlyphs">Dec</text>
<text x="677.6" y="555" font-size="10.8" font-weight="bold" textLength="23.8" lengthAdjust="spacingAndGlyphs">2015</text>
<text class="dj" x="744.5" y="555" font-size="9.3" textLength="18.0" lengthAdjust="spacingAndGlyphs">Feb</text>
<text class="dj" x="803.9" y="555" font-size="9.3" textLength="19.1" lengthAdjust="spacingAndGlyphs">Mar</text>
<text class="dj" x="870.7" y="555" font-size="9.3" textLength="17.5" lengthAdjust="spacingAndGlyphs">Apr</text>
<text class="dj" x="932.2" y="555" font-size="9.3" textLength="20.4" lengthAdjust="spacingAndGlyphs">May</text>
<text class="dj" x="996.5" y="555" font-size="9.3" textLength="18.0" lengthAdjust="spacingAndGlyphs">Jun</text>
<text class="dj" x="1064.5" y="555" font-size="9.3" textLength="14.0" lengthAdjust="spacingAndGlyphs">Jul</text>
<text class="dj" x="1130.5" y="555" font-size="9.3" textLength="20.0" lengthAdjust="spacingAndGlyphs">Aug</text>
<text x="22.8" y="28.3" font-size="13.7" font-weight="bold" textLength="57.8" lengthAdjust="spacingAndGlyphs">$STOX5E</text>
<text x="83.8" y="28.1" font-size="11" textLength="114" lengthAdjust="spacingAndGlyphs">EURO STOXX 50 (EOD)</text>
<text x="202.2" y="28.1" font-size="9.8" textLength="24.6" lengthAdjust="spacingAndGlyphs">INDX</text>
<text x="22.4" y="40.5" font-size="9.6" text-rendering="geometricPrecision" textLength="61.6" lengthAdjust="spacingAndGlyphs">28-Aug-2015</text>
<g shape-rendering="crispEdges" fill="#fff"><rect x="24" y="44" width="156" height="12"/><rect x="24" y="56" width="83" height="11"/><rect x="24" y="67" width="87" height="11"/><rect x="24" y="78" width="76" height="10"/></g>
<text x="38" y="53.4" font-size="9.4" class="dj" stroke="#000" stroke-width="0.1" textLength="141.5" lengthAdjust="spacing">$STOX5E (Daily) 3286.59</text>
<text x="35.8" y="65" font-size="10" fill="#000080" text-rendering="geometricPrecision" stroke="#000080" stroke-width="0.15" textLength="70" lengthAdjust="spacingAndGlyphs">MA(50) 3511.17</text>
<text x="35.8" y="76" font-size="10" fill="#d80a32" text-rendering="geometricPrecision" stroke="#d80a32" stroke-width="0.15" textLength="75.2" lengthAdjust="spacingAndGlyphs">MA(200) 3472.05</text>
<text x="36.8" y="86" font-size="10" fill="#404040" text-rendering="geometricPrecision" stroke="#404040" stroke-width="0.1" textLength="62.6" lengthAdjust="spacingAndGlyphs">Volume undef</text>
<g shape-rendering="crispEdges">
<rect x="26" y="60" width="9" height="2" fill="#000080"/>
<rect x="26" y="71" width="9" height="2" fill="#d80a32"/>
<rect x="26" y="81" width="3" height="5" fill="#4a4a4a"/><rect x="27" y="82" width="1" height="3" fill="#888"/><rect x="29" y="78" width="3" height="8" fill="#4a4a4a"/><rect x="30" y="79" width="1" height="6" fill="#888"/><rect x="32" y="80" width="3" height="6" fill="#4a4a4a"/><rect x="33" y="81" width="1" height="4" fill="#888"/>
<rect x="27" y="46" width="1" height="8" fill="#000"/><rect x="26" y="47" width="3" height="4" fill="#000"/>
<rect x="30" y="47" width="1" height="7" fill="#000"/><rect x="29" y="49" width="3" height="4" fill="#000"/>
<rect x="33" y="46" width="1" height="8" fill="#000"/><rect x="32" y="47" width="3" height="6" fill="#000"/><rect x="33" y="48" width="1" height="4" fill="#fff"/>
</g>
<text x="795" y="40.5" font-size="10" font-weight="bold" textLength="29" lengthAdjust="spacingAndGlyphs">Open</text>
<text x="827" y="40.5" font-size="10" textLength="38" lengthAdjust="spacingAndGlyphs">3285.58</text>
<text x="872" y="40.5" font-size="10" font-weight="bold" textLength="23.4" lengthAdjust="spacingAndGlyphs">High</text>
<text x="899" y="40.5" font-size="10" textLength="38" lengthAdjust="spacingAndGlyphs">3290.18</text>
<text x="943.8" y="40.5" font-size="10" font-weight="bold" textLength="22.7" lengthAdjust="spacingAndGlyphs">Low</text>
<text x="971" y="40.5" font-size="10" textLength="38.5" lengthAdjust="spacingAndGlyphs">3252.52</text>
<text x="1015.8" y="40.5" font-size="10" font-weight="bold" textLength="30.7" lengthAdjust="spacingAndGlyphs">Close</text>
<text x="1050.4" y="40.5" font-size="10" textLength="38.4" lengthAdjust="spacingAndGlyphs">3286.59</text>
<text x="1096" y="40.5" font-size="10" font-weight="bold" textLength="21" lengthAdjust="spacingAndGlyphs">Chg</text>
<text x="1121.5" y="40.5" font-size="10" textLength="25.5" lengthAdjust="spacingAndGlyphs">+5.81</text>
<text x="1151" y="40.5" font-size="10" textLength="42" lengthAdjust="spacingAndGlyphs">(+0.18%)</text>
<path d="M1196,39.6 L1199.5,36 L1203,39.6 Z" fill="#236b23"/>
<text x="1113.5" y="27.8" font-size="10" fill="#555555" textLength="90" lengthAdjust="spacingAndGlyphs">© StockCharts.com</text>
</svg></body></html>
